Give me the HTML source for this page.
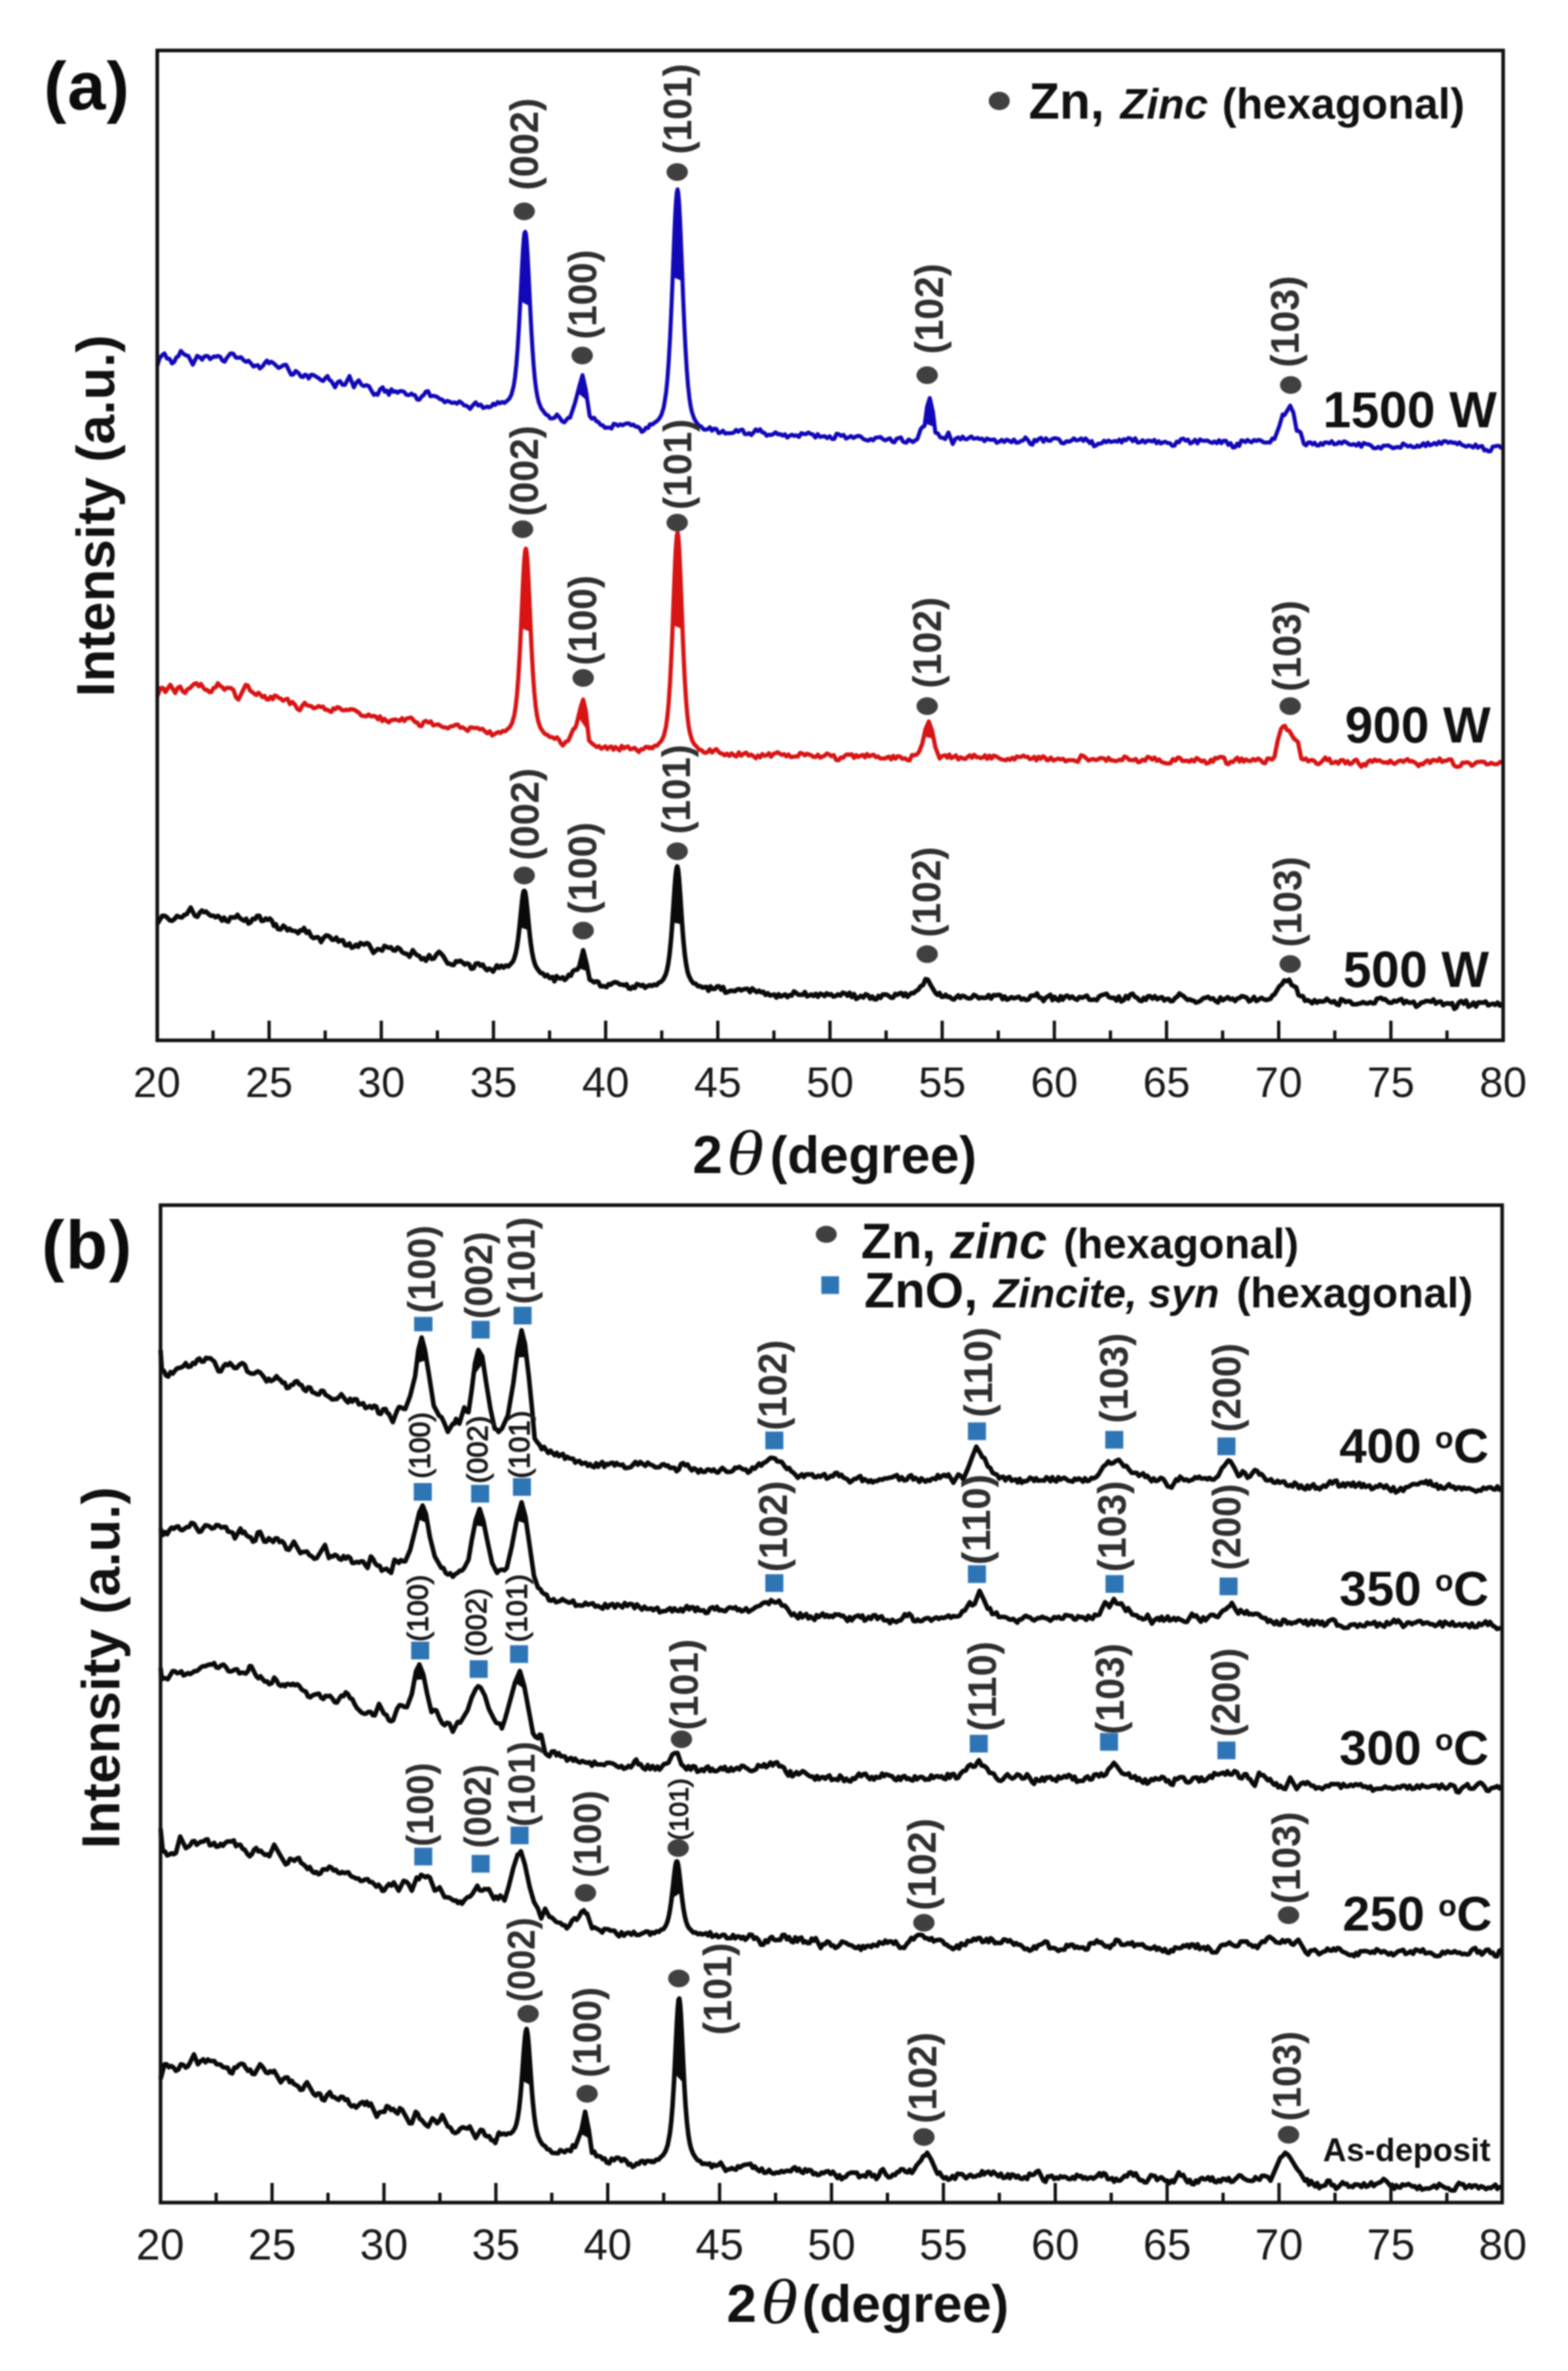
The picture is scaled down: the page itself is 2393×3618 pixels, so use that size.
<!DOCTYPE html>
<html><head><meta charset="utf-8"><title>XRD patterns</title>
<style>html,body{margin:0;padding:0;background:#fff}svg{display:block}</style></head>
<body>
<svg width="2393" height="3618" viewBox="0 0 2393 3618" font-family='"Liberation Sans", Arial, sans-serif'>
<rect width="2393" height="3618" fill="#fff"/>
<defs><filter id="soft" x="0" y="0" width="100%" height="100%" filterUnits="userSpaceOnUse" color-interpolation-filters="sRGB"><feGaussianBlur stdDeviation="1.0"/></filter></defs>
<g filter="url(#soft)">
<path d="M240.0 558.4 243.4 547.0 247.2 542.3 251.0 539.3 254.9 547.1 258.7 547.6 262.5 554.6 265.9 552.2 269.2 545.4 272.6 543.1 275.9 535.5 279.7 539.4 283.6 542.3 287.4 543.1 294.3 556.5 300.8 543.1 304.6 544.9 308.4 548.9 311.3 544.5 314.2 543.1 317.4 543.5 320.6 548.1 323.8 545.8 326.7 543.8 329.6 544.6 332.6 543.1 336.0 544.3 339.4 550.2 342.9 551.9 345.8 546.6 348.8 542.9 351.7 539.3 355.9 539.7 360.1 545.8 363.9 545.9 367.8 545.1 371.6 549.6 375.4 552.1 379.2 550.4 383.1 554.6 386.9 559.3 390.7 557.7 393.6 557.2 396.5 562.3 400.3 559.4 404.1 553.9 407.3 550.2 410.5 554.5 413.7 551.9 417.5 554.2 421.3 557.7 425.2 561.4 429.0 559.6 432.8 557.1 436.6 556.5 444.3 571.8 447.7 571.4 451.2 566.1 455.4 569.0 459.6 574.9 462.5 575.3 465.3 571.8 468.2 572.8 471.1 577.6 474.9 571.8 478.7 572.4 482.6 574.9 486.4 577.0 490.2 580.3 493.4 581.3 496.6 576.7 499.8 573.8 502.6 579.5 505.5 581.4 511.3 591.0 515.1 583.5 518.9 581.4 522.7 587.2 526.6 587.1 533.4 573.8 540.0 591.0 543.8 583.7 547.6 580.3 551.4 586.8 555.3 589.1 559.1 587.8 562.9 589.1 570.6 602.5 573.4 600.9 576.3 602.5 580.1 594.0 584.0 591.0 587.1 597.8 590.3 595.9 593.5 602.5 597.4 594.0 600.5 597.9 603.7 597.0 606.9 599.4 609.8 597.0 612.7 596.7 616.5 597.7 620.3 602.5 624.1 603.0 628.0 600.5 630.0 602.5 633.3 603.0 636.7 609.7 640.0 610.0 643.3 605.3 646.7 602.7 650.0 597.5 653.3 596.8 656.7 604.6 660.0 604.0 663.8 604.3 667.5 605.8 671.2 608.8 675.0 610.0 678.8 613.9 682.5 611.7 686.2 613.0 690.0 615.0 693.8 614.1 697.5 616.0 701.2 612.5 705.0 615.0 708.1 618.6 711.2 618.9 714.4 620.9 717.5 624.0 721.8 618.2 726.0 614.0 729.8 618.8 733.7 617.5 737.5 622.5 740.6 621.6 743.8 620.3 746.9 621.6 750.0 620.0 753.0 615.9 756.0 617.8 759.0 615.0 759.5 613.5 763.0 615.5 766.5 613.3 770.0 614.8 773.5 611.9 777.0 608.8 780.5 602.3 784.0 588.8 786.0 575.6 788.0 556.8 790.0 531.5 792.0 499.4 793.2 477.2 794.4 453.5 795.6 429.2 796.8 405.4 798.0 383.9 799.2 366.7 800.4 355.7 801.6 353.8 802.8 357.8 804.0 370.6 805.2 389.4 806.4 412.1 807.6 436.8 808.8 461.8 810.0 485.9 811.2 508.5 812.4 528.8 814.4 557.3 816.4 579.2 818.4 595.1 820.4 606.3 822.4 614.1 825.9 622.8 829.4 627.6 832.9 632.4 836.4 633.9 839.9 638.5 843.4 638.3 846.2 637.6 850.0 632.5 853.8 636.8 857.5 642.5 861.2 644.5 865.0 640.0 867.5 637.4 870.0 637.5 877.5 615.0 884.0 590.0 889.0 572.5 894.0 595.0 900.0 635.0 903.3 638.9 906.7 637.4 910.0 642.5 913.3 644.1 916.7 648.3 920.0 649.0 923.3 653.0 926.7 652.4 930.0 652.5 933.3 653.8 936.7 646.7 940.0 647.5 943.3 649.6 946.7 647.4 950.0 649.0 953.3 647.1 956.7 646.2 960.0 646.0 963.3 649.0 966.7 647.9 970.0 651.0 973.1 651.1 976.2 653.2 979.4 659.1 982.5 657.5 985.8 652.7 989.2 653.2 992.0 647.3 995.5 647.8 999.0 644.8 1002.5 642.8 1006.0 638.9 1009.5 632.7 1013.0 621.3 1016.5 599.5 1018.5 579.5 1020.5 552.5 1022.5 517.4 1024.5 474.4 1025.7 445.5 1026.9 415.1 1028.1 384.3 1029.3 354.7 1030.5 328.2 1031.7 307.1 1032.9 293.7 1034.1 289.0 1035.3 295.5 1036.5 310.5 1037.7 332.9 1038.9 360.3 1040.1 390.4 1041.3 421.4 1042.5 451.9 1043.7 480.6 1044.9 507.0 1046.1 530.7 1048.1 563.7 1050.1 588.8 1052.1 607.2 1054.1 620.2 1056.1 629.3 1059.6 639.2 1063.1 645.0 1066.6 649.4 1070.1 650.8 1073.6 655.1 1076.2 655.6 1080.0 655.0 1083.3 652.0 1086.7 657.2 1090.0 654.0 1093.3 654.6 1096.7 660.9 1100.0 660.0 1103.3 657.2 1106.7 661.5 1110.0 661.0 1113.3 661.1 1116.7 661.0 1120.0 660.0 1123.3 656.0 1126.7 658.8 1130.0 656.0 1133.3 655.5 1136.7 662.4 1140.0 662.5 1143.3 660.9 1146.7 663.8 1150.0 660.0 1153.3 655.2 1156.7 657.9 1160.0 655.0 1163.3 659.7 1166.7 660.5 1170.0 665.0 1173.3 663.3 1176.7 663.9 1180.0 662.5 1183.6 659.6 1187.1 662.8 1190.7 662.4 1194.3 664.7 1197.9 662.7 1201.4 667.7 1205.0 665.0 1208.6 663.4 1212.1 665.1 1215.7 664.2 1219.3 666.8 1222.9 661.0 1226.4 662.2 1230.0 662.5 1233.6 659.9 1237.1 661.9 1240.7 662.9 1244.3 667.7 1247.9 662.6 1251.4 666.7 1255.0 666.0 1258.8 665.6 1262.5 668.7 1266.2 665.7 1270.0 670.0 1273.3 669.8 1276.7 661.9 1280.0 662.5 1283.8 665.1 1287.5 663.6 1291.2 669.3 1295.0 667.5 1298.8 665.4 1302.5 668.4 1306.2 666.2 1310.0 665.0 1313.8 666.3 1317.5 669.8 1321.2 671.3 1325.0 672.5 1328.8 669.9 1332.5 671.9 1336.2 667.8 1340.0 667.5 1343.8 666.8 1347.5 670.3 1351.2 672.0 1355.0 670.0 1358.3 668.9 1361.7 674.1 1365.0 675.0 1368.3 669.4 1371.7 668.5 1375.0 667.5 1377.5 672.8 1380.0 675.0 1383.3 675.5 1386.7 670.6 1390.0 672.5 1393.3 674.5 1396.7 672.0 1400.0 670.0 1405.0 655.0 1408.0 651.6 1411.0 650.0 1415.0 620.0 1419.0 607.5 1424.0 630.0 1427.5 660.0 1431.2 661.2 1435.0 667.5 1438.8 668.1 1442.5 670.0 1447.5 660.0 1454.0 677.5 1458.2 669.3 1462.5 667.5 1465.8 670.4 1469.2 666.3 1472.5 670.0 1475.8 670.3 1479.2 667.9 1482.5 666.0 1485.6 669.3 1488.8 669.0 1491.9 668.3 1495.0 670.0 1498.8 669.4 1502.5 673.3 1506.2 669.1 1510.0 671.0 1513.8 671.2 1517.5 670.5 1521.2 675.6 1525.0 674.0 1528.8 671.2 1532.5 674.4 1536.2 671.0 1540.0 672.5 1543.8 674.8 1547.5 670.7 1551.2 675.6 1555.0 675.0 1558.3 672.8 1561.7 671.9 1565.0 667.5 1568.8 671.6 1572.5 677.5 1575.6 678.6 1578.8 671.3 1581.9 673.4 1585.0 670.0 1588.8 668.1 1592.5 674.1 1596.2 668.7 1600.0 672.5 1603.1 672.6 1606.2 669.6 1609.4 668.6 1612.5 669.0 1616.2 670.1 1620.0 676.0 1623.8 676.6 1627.5 673.3 1631.2 674.0 1635.0 672.5 1638.8 668.9 1642.5 672.0 1646.2 671.5 1650.0 669.0 1653.3 672.8 1656.7 669.0 1660.0 672.5 1663.1 676.1 1666.2 673.0 1669.4 680.9 1672.5 680.0 1675.6 677.2 1678.8 677.1 1681.9 676.0 1685.0 672.5 1688.3 674.9 1691.7 672.2 1695.0 674.4 1698.3 673.8 1701.7 672.9 1705.0 674.0 1708.3 670.9 1711.7 675.2 1715.0 670.2 1718.3 671.9 1721.7 668.6 1725.0 669.0 1728.8 673.2 1732.5 668.8 1736.2 675.4 1740.0 675.0 1743.8 671.7 1747.5 675.3 1751.2 672.3 1755.0 672.5 1758.3 673.7 1761.7 671.3 1765.0 676.4 1768.3 673.3 1771.7 676.7 1775.0 675.0 1778.5 674.1 1782.0 676.0 1785.5 676.3 1789.0 680.3 1792.5 680.0 1795.8 674.0 1799.2 675.2 1802.5 670.0 1806.0 669.4 1809.5 672.5 1813.0 670.8 1816.5 676.8 1820.0 675.0 1823.8 671.1 1827.5 676.6 1831.2 670.5 1835.0 672.5 1838.8 672.7 1842.5 672.0 1846.2 674.4 1850.0 676.0 1853.5 673.7 1857.0 676.2 1860.5 671.8 1864.0 676.2 1867.5 672.5 1871.0 672.6 1874.5 678.8 1878.0 676.2 1881.5 682.8 1885.0 682.5 1888.1 676.9 1891.2 680.4 1894.4 672.2 1897.5 672.5 1900.6 674.6 1903.8 671.3 1906.9 673.4 1910.0 675.0 1913.8 671.5 1917.5 672.8 1921.2 671.2 1925.0 672.5 1928.3 675.0 1931.7 675.3 1935.0 675.0 1938.3 675.3 1941.7 669.2 1945.0 670.0 1952.5 650.0 1957.5 632.5 1960.0 633.7 1962.5 630.0 1969.0 619.0 1974.0 630.0 1979.0 657.5 1982.0 657.7 1985.0 660.0 1990.0 677.5 1993.3 679.6 1996.7 675.1 2000.0 675.0 2003.1 678.2 2006.2 675.6 2009.4 679.7 2012.5 680.0 2015.6 676.3 2018.8 678.8 2021.9 675.1 2025.0 675.0 2028.8 676.6 2032.5 673.3 2036.2 678.0 2040.0 677.5 2043.8 674.4 2047.5 676.8 2051.2 673.4 2055.0 675.0 2058.8 678.0 2062.5 678.8 2066.2 677.6 2070.0 680.0 2073.8 676.2 2077.5 681.8 2081.2 675.9 2085.0 677.5 2088.8 678.1 2092.5 679.9 2096.2 683.9 2100.0 684.0 2103.8 681.8 2107.5 684.5 2111.2 680.2 2115.0 680.0 2118.8 679.7 2122.5 681.8 2126.2 684.0 2130.0 682.5 2133.8 682.2 2137.5 683.2 2141.2 676.7 2145.0 679.0 2148.8 681.3 2152.5 679.9 2156.2 682.4 2160.0 682.5 2163.0 679.8 2166.0 681.8 2169.0 680.0 2172.3 676.5 2175.7 680.8 2179.0 675.5 2182.3 679.5 2185.7 678.3 2189.0 676.0 2192.6 678.4 2196.1 674.0 2199.7 677.3 2203.3 673.2 2206.9 673.3 2210.4 675.8 2214.0 674.0 2217.3 675.9 2220.7 675.3 2224.0 677.9 2227.3 675.1 2230.7 678.7 2234.0 680.0 2237.6 681.6 2241.1 679.7 2244.7 680.8 2248.3 682.9 2251.9 678.3 2255.4 683.2 2259.0 681.0 2262.1 680.7 2265.2 687.3 2268.4 686.3 2271.5 689.0 2274.8 688.5 2278.2 681.5 2281.5 681.0 2284.6 680.4 2287.8 680.3 2290.9 683.2 2294.0 682.5" fill="none" stroke="#1208b8" stroke-width="6.2" stroke-linejoin="round" stroke-linecap="butt"/>
<path d="M794.1 459.5 794.4 453.5 795.6 429.2 796.8 405.4 798.0 383.9 799.2 366.7 800.4 355.7 801.6 353.8 802.8 357.8 804.0 370.6 805.2 389.4 806.4 412.1 807.6 436.8 808.8 461.8 809.1 467.8ZM881.5 599.6 884.0 590.0 889.0 572.5 894.0 595.0 896.5 611.7ZM1026.6 422.7 1026.9 415.1 1028.1 384.3 1029.3 354.7 1030.5 328.2 1031.7 307.1 1032.9 293.7 1034.1 289.0 1035.3 295.5 1036.5 310.5 1037.7 332.9 1038.9 360.3 1040.1 390.4 1041.3 421.4 1041.6 429.0ZM1411.5 646.2 1415.0 620.0 1419.0 607.5 1424.0 630.0 1426.5 651.4Z" fill="#1208b8" stroke="none"/>
<path d="M240.0 1062.5 245.0 1050.0 248.8 1049.8 252.5 1056.0 256.2 1050.2 260.0 1045.0 267.5 1057.5 271.2 1049.7 275.0 1047.5 278.8 1054.9 282.5 1057.5 286.2 1051.6 290.0 1050.0 293.3 1046.4 296.7 1043.3 300.0 1042.5 303.3 1047.2 306.7 1043.7 310.0 1049.0 313.1 1052.5 316.2 1052.8 319.4 1056.0 322.5 1056.0 325.8 1049.9 329.2 1049.0 332.5 1042.5 335.8 1046.4 339.2 1048.5 342.5 1052.5 345.8 1049.7 349.2 1049.6 352.5 1050.0 356.3 1052.8 360.2 1064.2 364.0 1067.5 375.0 1045.0 378.3 1046.0 381.7 1053.8 385.0 1056.0 388.1 1058.6 391.2 1060.6 394.4 1057.2 397.5 1060.0 400.6 1063.7 403.8 1061.9 406.9 1067.1 410.0 1067.5 413.1 1063.2 416.2 1067.1 419.4 1061.2 422.5 1062.5 425.6 1064.9 428.8 1066.2 431.9 1069.3 435.0 1067.5 438.8 1066.3 442.5 1074.4 446.2 1071.2 450.0 1075.0 453.8 1081.8 457.5 1084.0 461.2 1076.9 465.0 1072.5 468.3 1076.1 471.7 1077.0 475.0 1077.5 478.8 1080.7 482.5 1079.8 486.2 1077.3 490.0 1079.0 493.1 1078.2 496.2 1083.1 499.4 1082.7 502.5 1085.0 505.6 1086.4 508.8 1080.9 511.9 1082.2 515.0 1079.0 518.3 1080.1 521.7 1083.3 525.0 1084.0 528.1 1082.9 531.2 1083.8 534.4 1082.3 537.5 1082.5 541.0 1083.1 544.5 1085.5 548.0 1087.7 551.5 1092.1 555.0 1092.5 558.8 1093.1 562.5 1090.3 566.2 1093.3 570.0 1092.5 573.3 1093.2 576.7 1097.6 580.0 1093.2 583.3 1100.4 586.7 1096.9 590.0 1100.0 593.3 1102.3 596.7 1099.2 600.0 1098.5 603.3 1097.9 606.7 1099.0 610.0 1100.0 613.5 1095.8 617.0 1100.2 620.5 1096.5 624.0 1095.6 627.5 1095.0 630.6 1098.4 633.8 1102.0 636.9 1102.5 640.0 1107.5 643.3 1108.1 646.7 1101.4 650.0 1100.0 653.8 1102.7 657.5 1100.8 661.2 1107.0 665.0 1106.0 668.8 1105.3 672.5 1107.7 676.2 1109.8 680.0 1110.0 683.8 1111.5 687.5 1108.4 691.2 1108.1 695.0 1106.0 698.8 1105.7 702.5 1110.6 706.2 1109.8 710.0 1112.5 713.8 1115.3 717.5 1110.0 721.2 1110.3 725.0 1111.0 728.8 1110.6 732.5 1113.0 736.2 1112.0 740.0 1116.0 743.8 1119.0 747.5 1115.8 751.2 1122.3 755.0 1120.0 758.1 1118.2 760.5 1117.0 764.0 1118.5 767.5 1115.3 771.0 1115.9 774.5 1112.6 778.0 1109.6 781.5 1103.4 785.0 1090.9 787.0 1078.4 789.0 1060.1 791.0 1034.6 793.0 1001.2 794.2 977.6 795.4 951.9 796.6 925.1 797.8 898.4 799.0 873.9 800.2 853.9 801.4 841.0 802.6 837.3 803.8 842.8 805.0 857.3 806.2 878.5 807.4 903.7 808.6 930.8 809.8 957.7 811.0 983.4 812.2 1006.8 813.4 1027.6 815.4 1055.8 817.4 1076.5 819.4 1091.0 821.4 1100.7 824.9 1110.8 828.4 1116.1 831.9 1120.3 835.4 1121.4 838.9 1124.6 842.4 1124.8 846.7 1127.4 850.0 1125.0 853.0 1128.5 856.0 1134.4 859.0 1137.5 863.2 1132.2 867.5 1130.0 875.0 1112.5 877.5 1111.4 880.0 1105.0 886.0 1080.0 890.0 1067.5 894.0 1085.0 899.0 1130.0 903.2 1134.2 907.5 1137.5 910.8 1139.9 914.2 1138.5 917.5 1142.5 920.6 1140.7 923.8 1138.9 926.9 1143.1 930.0 1140.0 933.1 1139.1 936.2 1144.0 939.4 1139.9 942.5 1142.5 945.6 1145.0 948.8 1138.1 951.9 1142.0 955.0 1140.0 958.3 1139.0 961.7 1143.4 965.0 1142.5 968.3 1141.1 971.7 1144.4 975.0 1147.5 978.3 1143.5 981.7 1143.4 985.0 1140.0 988.1 1139.7 991.2 1141.8 992.0 1140.1 995.5 1141.9 999.0 1137.9 1002.5 1138.0 1006.0 1134.2 1009.5 1130.4 1013.0 1123.1 1016.5 1108.4 1018.5 1093.8 1020.5 1072.5 1022.5 1042.7 1024.5 1003.8 1025.7 976.3 1026.9 946.4 1028.1 915.1 1029.3 884.1 1030.5 855.5 1031.7 832.2 1032.9 817.2 1034.1 812.9 1035.3 819.2 1036.5 836.0 1037.7 860.6 1038.9 889.9 1040.1 921.3 1041.3 952.6 1042.5 982.4 1043.7 1009.6 1044.9 1033.7 1046.9 1066.4 1048.9 1090.4 1050.9 1107.2 1052.9 1118.4 1056.4 1130.0 1059.9 1136.2 1063.4 1139.4 1066.9 1144.0 1070.4 1144.4 1073.9 1148.0 1076.9 1148.8 1080.0 1147.5 1083.3 1143.7 1086.7 1148.3 1090.0 1145.0 1093.1 1143.0 1096.2 1146.4 1099.4 1149.6 1102.5 1150.0 1106.0 1152.7 1109.5 1150.0 1113.0 1153.3 1116.5 1149.5 1120.0 1152.5 1123.8 1154.3 1127.5 1148.1 1131.2 1153.2 1135.0 1150.0 1138.8 1148.4 1142.5 1153.1 1146.2 1151.4 1150.0 1154.0 1153.3 1157.0 1156.7 1153.0 1160.0 1155.7 1163.3 1150.7 1166.7 1153.3 1170.0 1152.5 1173.3 1149.5 1176.7 1154.7 1180.0 1150.5 1183.3 1149.5 1186.7 1147.8 1190.0 1150.0 1193.3 1151.9 1196.7 1150.8 1200.0 1154.2 1203.3 1151.3 1206.7 1155.2 1210.0 1155.0 1213.8 1154.1 1217.5 1154.4 1221.2 1148.9 1225.0 1150.0 1228.3 1152.7 1231.7 1150.2 1235.0 1151.5 1238.3 1152.6 1241.7 1155.1 1245.0 1155.0 1248.3 1151.6 1251.7 1156.1 1255.0 1154.5 1258.3 1153.3 1261.7 1149.9 1265.0 1151.0 1268.8 1153.8 1272.5 1152.3 1276.2 1159.8 1280.0 1160.0 1283.3 1155.8 1286.7 1156.4 1290.0 1152.5 1293.3 1151.1 1296.7 1151.8 1300.0 1150.9 1303.3 1156.5 1306.7 1152.3 1310.0 1155.0 1313.3 1153.2 1316.7 1151.9 1320.0 1155.7 1323.3 1150.6 1326.7 1154.3 1330.0 1152.5 1333.3 1151.6 1336.7 1155.4 1340.0 1154.2 1343.3 1157.4 1346.7 1157.4 1350.0 1157.5 1353.3 1156.0 1356.7 1154.6 1360.0 1158.8 1363.3 1153.4 1366.7 1157.7 1370.0 1154.0 1373.8 1154.7 1377.5 1158.0 1381.2 1157.0 1385.0 1160.0 1388.3 1160.2 1391.7 1152.2 1395.0 1152.5 1398.8 1151.6 1402.5 1147.5 1407.5 1135.0 1412.5 1112.5 1417.5 1101.0 1422.5 1115.0 1427.5 1140.0 1434.0 1157.5 1438.2 1153.5 1442.5 1152.5 1445.6 1156.2 1448.8 1151.3 1451.9 1157.0 1455.0 1155.0 1458.8 1152.7 1462.5 1158.9 1466.2 1155.6 1470.0 1157.5 1473.3 1158.2 1476.7 1155.0 1480.0 1152.5 1483.3 1156.3 1486.7 1151.8 1490.0 1155.3 1493.3 1155.3 1496.7 1156.9 1500.0 1156.0 1503.3 1152.6 1506.7 1158.0 1510.0 1153.0 1513.3 1157.5 1516.7 1153.0 1520.0 1154.0 1523.8 1156.4 1527.5 1158.5 1531.2 1159.4 1535.0 1160.0 1538.3 1158.0 1541.7 1159.5 1545.0 1156.3 1548.3 1158.9 1551.7 1154.3 1555.0 1155.0 1558.3 1155.1 1561.7 1153.0 1565.0 1154.9 1568.3 1154.7 1571.7 1158.5 1575.0 1157.5 1578.3 1155.0 1581.7 1160.3 1585.0 1154.9 1588.3 1157.9 1591.7 1154.1 1595.0 1156.0 1597.5 1160.0 1600.0 1160.0 1603.8 1156.1 1607.5 1160.5 1611.2 1159.1 1615.0 1157.5 1618.8 1158.9 1622.5 1157.9 1626.2 1161.8 1630.0 1160.0 1633.8 1159.9 1637.5 1159.9 1641.2 1161.1 1645.0 1162.5 1650.0 1152.5 1653.8 1153.6 1657.5 1156.9 1661.2 1160.6 1665.0 1159.0 1668.3 1158.1 1671.7 1159.7 1675.0 1159.3 1678.3 1157.0 1681.7 1156.7 1685.0 1157.5 1688.3 1160.9 1691.7 1156.3 1695.0 1160.1 1698.3 1160.3 1701.7 1161.2 1705.0 1161.0 1708.8 1159.1 1712.5 1160.1 1716.2 1154.3 1720.0 1156.0 1723.3 1159.6 1726.7 1159.7 1730.0 1160.0 1733.3 1158.1 1736.7 1163.0 1740.0 1162.5 1743.8 1159.2 1747.5 1160.9 1751.2 1154.9 1755.0 1156.0 1758.5 1159.1 1762.0 1156.0 1765.5 1161.0 1769.0 1158.7 1772.5 1162.5 1775.8 1163.9 1779.2 1164.7 1782.5 1165.0 1786.2 1164.9 1790.0 1158.3 1793.8 1160.7 1797.5 1156.0 1801.0 1156.7 1804.5 1161.4 1808.0 1161.0 1811.5 1160.7 1815.0 1162.5 1818.8 1159.3 1822.5 1161.8 1826.2 1156.6 1830.0 1159.0 1833.8 1162.0 1837.5 1160.4 1841.2 1165.2 1845.0 1164.0 1848.1 1159.3 1851.2 1162.4 1854.4 1156.6 1857.5 1157.5 1861.2 1155.1 1865.0 1155.0 1868.3 1156.2 1871.7 1165.4 1875.0 1166.0 1878.3 1162.2 1881.7 1162.9 1885.0 1159.0 1888.3 1156.2 1891.7 1162.3 1895.0 1157.3 1898.3 1162.1 1901.7 1158.8 1905.0 1161.0 1908.8 1161.2 1912.5 1158.2 1916.2 1160.5 1920.0 1157.5 1923.8 1159.8 1927.5 1164.0 1930.8 1164.7 1934.2 1157.4 1937.5 1157.5 1941.2 1159.2 1945.0 1155.0 1950.0 1130.0 1955.0 1112.5 1958.0 1108.6 1961.0 1107.5 1964.2 1114.1 1967.5 1115.0 1975.0 1127.5 1978.0 1129.5 1981.0 1132.5 1986.0 1157.5 1989.5 1159.2 1993.0 1157.4 1996.5 1161.9 2000.0 1160.0 2003.1 1159.8 2006.2 1161.6 2009.4 1165.6 2012.5 1166.0 2015.8 1163.6 2019.2 1160.1 2022.5 1156.0 2025.6 1160.1 2028.8 1157.7 2031.9 1164.7 2035.0 1164.0 2038.8 1162.1 2042.5 1165.2 2046.2 1159.9 2050.0 1160.0 2053.3 1164.9 2056.7 1161.5 2060.0 1166.0 2063.3 1164.8 2066.7 1160.7 2070.0 1159.0 2073.8 1165.4 2077.5 1170.0 2080.8 1165.9 2084.2 1168.2 2087.5 1162.5 2091.0 1160.2 2094.5 1162.6 2098.0 1159.0 2101.5 1161.2 2105.0 1160.0 2108.3 1161.9 2111.7 1163.8 2115.0 1163.0 2118.3 1164.6 2121.7 1160.6 2125.0 1164.0 2128.3 1165.8 2131.7 1163.2 2135.0 1161.1 2138.3 1160.4 2141.7 1162.7 2145.0 1160.0 2148.1 1158.3 2151.2 1162.0 2154.4 1161.1 2157.5 1162.5 2161.2 1164.9 2165.0 1169.0 2168.3 1165.5 2171.7 1166.5 2175.0 1162.5 2178.8 1160.4 2182.5 1164.3 2186.2 1159.8 2190.0 1160.0 2193.6 1161.4 2197.1 1157.4 2200.7 1162.6 2204.3 1161.0 2207.9 1160.7 2211.4 1158.6 2215.0 1159.0 2218.8 1167.8 2222.5 1170.0 2225.6 1170.0 2228.8 1169.0 2231.9 1163.8 2235.0 1164.0 2238.8 1163.1 2242.5 1164.4 2246.2 1168.7 2250.0 1166.0 2253.8 1162.7 2257.5 1162.7 2261.2 1162.2 2265.0 1162.5 2268.8 1166.4 2272.5 1165.8 2276.2 1164.0 2280.0 1166.0 2283.1 1166.1 2286.2 1165.5 2289.4 1162.6 2292.5 1164.0" fill="none" stroke="#d81414" stroke-width="6.4" stroke-linejoin="round" stroke-linecap="butt"/>
<path d="M795.1 958.4 795.4 951.9 796.6 925.1 797.8 898.4 799.0 873.9 800.2 853.9 801.4 841.0 802.6 837.3 803.8 842.8 805.0 857.3 806.2 878.5 807.4 903.7 808.6 930.8 809.8 957.7 810.1 964.2ZM882.5 1094.6 886.0 1080.0 890.0 1067.5 894.0 1085.0 897.5 1116.5ZM1026.6 953.9 1026.9 946.4 1028.1 915.1 1029.3 884.1 1030.5 855.5 1031.7 832.2 1032.9 817.2 1034.1 812.9 1035.3 819.2 1036.5 836.0 1037.7 860.6 1038.9 889.9 1040.1 921.3 1041.3 952.6 1041.6 960.1ZM1410.0 1123.8 1412.5 1112.5 1417.5 1101.0 1422.5 1115.0 1425.0 1127.5Z" fill="#d81414" stroke="none"/>
<path d="M240.0 1410.0 247.5 1397.5 251.2 1397.4 255.0 1400.0 258.8 1404.3 262.5 1405.0 266.2 1402.6 270.0 1397.5 273.8 1399.4 277.5 1400.0 281.2 1396.1 285.0 1395.0 291.0 1385.0 297.5 1397.5 301.2 1398.9 305.0 1392.5 308.1 1389.5 311.2 1391.9 314.4 1390.9 317.5 1394.0 321.2 1397.2 325.0 1397.2 328.8 1399.7 332.5 1397.5 335.6 1400.2 338.8 1404.7 341.9 1400.2 345.0 1405.0 348.3 1406.3 351.7 1399.8 355.0 1400.0 358.8 1400.1 362.5 1396.0 365.8 1400.7 369.2 1403.0 372.5 1405.0 375.8 1402.0 379.2 1409.3 382.5 1407.5 385.8 1401.9 389.2 1402.6 392.5 1397.5 395.8 1397.5 399.2 1405.3 402.5 1405.0 405.6 1401.6 408.8 1403.6 411.9 1401.6 415.0 1405.0 418.0 1412.8 421.0 1410.4 424.0 1417.5 428.2 1418.3 432.5 1412.5 435.6 1415.1 438.8 1419.7 441.9 1417.2 445.0 1420.0 448.3 1420.4 451.7 1421.1 455.0 1424.0 458.0 1419.6 461.0 1420.0 464.0 1416.0 467.7 1423.3 471.3 1421.2 475.0 1429.0 478.3 1431.6 481.7 1430.5 485.0 1430.0 487.5 1432.5 490.0 1437.5 493.8 1431.3 497.5 1427.5 500.6 1427.8 503.8 1430.0 506.9 1434.0 510.0 1434.0 513.3 1430.8 516.7 1436.8 520.0 1435.0 523.3 1434.8 526.7 1442.4 530.0 1442.5 533.3 1439.6 536.7 1446.2 540.0 1445.0 543.3 1441.6 546.7 1444.8 550.0 1439.0 553.1 1440.5 556.2 1441.5 559.4 1439.1 562.5 1440.0 570.0 1454.0 573.3 1451.0 576.7 1448.0 580.0 1449.0 583.3 1450.5 586.7 1443.4 590.0 1445.0 593.3 1446.3 596.7 1445.5 600.0 1450.0 603.3 1450.6 606.7 1445.8 610.0 1447.5 613.8 1453.0 617.5 1455.0 621.2 1455.7 625.0 1460.0 630.0 1450.0 633.3 1454.6 636.7 1457.6 640.0 1459.0 643.3 1463.8 646.7 1462.1 650.0 1466.0 655.0 1457.5 658.8 1463.2 662.5 1462.5 666.2 1456.3 670.0 1452.5 673.3 1455.2 676.7 1459.2 680.0 1465.0 683.1 1470.2 686.2 1470.5 689.4 1472.3 692.5 1472.5 695.8 1466.8 699.2 1467.5 702.5 1466.0 705.8 1468.5 709.2 1471.9 712.5 1470.0 715.8 1471.3 719.2 1478.3 722.5 1477.5 726.2 1470.5 730.0 1470.0 733.3 1473.5 736.7 1471.8 740.0 1477.5 743.1 1480.5 746.2 1478.0 749.4 1479.4 752.5 1482.5 756.2 1476.9 758.2 1473.2 761.7 1476.9 765.2 1473.6 768.7 1476.6 772.2 1473.2 775.7 1474.8 779.2 1471.3 782.7 1467.2 784.7 1462.8 786.7 1456.1 788.7 1446.4 790.7 1432.9 791.9 1423.0 793.1 1411.9 794.3 1399.9 795.5 1387.6 796.7 1376.0 797.9 1366.2 799.1 1359.9 800.3 1359.4 801.5 1361.2 802.7 1368.7 803.9 1379.4 805.1 1391.7 806.3 1404.5 807.5 1416.9 808.7 1428.3 809.9 1438.4 811.9 1452.3 813.9 1462.6 815.9 1469.9 817.9 1474.9 821.4 1480.2 824.9 1484.7 828.4 1485.3 831.9 1489.7 835.4 1487.7 838.9 1492.5 843.1 1490.8 846.2 1497.4 849.4 1489.6 852.5 1492.5 855.6 1493.1 858.8 1491.3 861.9 1495.3 865.0 1492.5 868.1 1487.4 871.2 1488.9 874.4 1481.7 877.5 1480.0 880.8 1479.7 884.0 1475.0 890.0 1450.0 895.0 1470.0 900.0 1495.0 903.3 1496.7 906.7 1499.0 910.0 1497.5 913.1 1498.2 916.2 1504.9 919.4 1504.8 922.5 1505.0 925.6 1506.4 928.8 1501.7 931.9 1502.7 935.0 1500.0 938.8 1498.6 942.5 1499.7 946.2 1502.3 950.0 1502.5 953.1 1503.6 956.2 1501.9 959.4 1508.2 962.5 1509.0 965.6 1505.7 968.8 1507.5 971.9 1501.6 975.0 1502.5 978.1 1504.3 981.2 1502.8 984.4 1507.3 987.5 1505.0 990.6 1504.2 991.5 1503.2 995.0 1504.4 998.5 1502.4 1002.0 1503.3 1005.5 1499.5 1009.0 1498.0 1012.5 1494.0 1016.0 1486.9 1018.0 1479.9 1020.0 1469.6 1022.0 1454.8 1024.0 1434.6 1025.2 1419.8 1026.4 1403.2 1027.6 1385.4 1028.8 1367.1 1030.0 1349.7 1031.2 1335.2 1032.4 1325.5 1033.6 1322.0 1034.8 1326.8 1036.0 1337.5 1037.2 1352.7 1038.4 1370.5 1039.6 1388.8 1040.8 1406.6 1042.0 1423.0 1043.2 1437.5 1045.2 1457.3 1047.2 1471.8 1049.2 1481.9 1051.2 1488.7 1054.7 1495.8 1058.2 1500.3 1061.7 1501.2 1065.2 1504.9 1068.7 1504.8 1072.2 1507.0 1078.1 1505.9 1081.2 1511.9 1084.4 1505.1 1087.5 1509.0 1090.8 1509.1 1094.2 1505.3 1097.5 1505.0 1100.6 1510.0 1103.8 1506.3 1106.9 1514.8 1110.0 1514.0 1113.8 1512.1 1117.5 1511.7 1121.2 1512.6 1125.0 1510.0 1128.1 1509.3 1131.2 1511.3 1134.4 1509.9 1137.5 1509.0 1141.0 1509.0 1144.5 1513.8 1148.0 1508.3 1151.5 1511.4 1155.0 1514.0 1158.3 1511.7 1161.7 1514.2 1165.0 1513.4 1168.3 1518.1 1171.7 1515.7 1175.0 1519.0 1178.3 1518.3 1181.7 1517.6 1185.0 1522.1 1188.3 1517.2 1191.7 1520.7 1195.0 1519.0 1198.3 1517.5 1201.7 1521.5 1205.0 1518.5 1208.3 1519.2 1211.7 1512.8 1215.0 1515.0 1218.3 1517.9 1221.7 1518.1 1225.0 1517.9 1228.3 1514.0 1231.7 1520.4 1235.0 1519.0 1238.3 1517.5 1241.7 1519.7 1245.0 1516.6 1248.3 1520.9 1251.7 1516.2 1255.0 1517.5 1258.3 1519.9 1261.7 1515.8 1265.0 1518.1 1268.3 1517.0 1271.7 1520.7 1275.0 1520.0 1278.8 1517.3 1282.5 1519.1 1286.2 1514.8 1290.0 1516.0 1293.3 1519.2 1296.7 1514.9 1300.0 1521.4 1303.3 1516.9 1306.7 1524.4 1310.0 1522.5 1313.8 1519.5 1317.5 1522.1 1321.2 1517.1 1325.0 1519.0 1328.1 1523.9 1331.2 1520.8 1334.4 1524.7 1337.5 1525.0 1340.6 1519.7 1343.8 1522.7 1346.9 1517.8 1350.0 1517.5 1353.3 1517.7 1356.7 1519.9 1360.0 1522.5 1363.1 1522.4 1366.2 1516.7 1369.4 1518.2 1372.5 1516.0 1375.6 1515.2 1378.8 1519.8 1381.9 1516.0 1385.0 1521.0 1388.1 1517.7 1391.2 1515.3 1394.4 1515.6 1397.5 1512.5 1401.2 1510.5 1405.0 1505.0 1408.8 1503.2 1412.5 1494.0 1416.2 1495.1 1420.0 1502.5 1427.5 1515.0 1430.6 1518.1 1433.8 1515.2 1436.9 1521.0 1440.0 1521.0 1443.1 1518.0 1446.2 1521.3 1449.4 1521.0 1452.5 1524.0 1455.8 1525.3 1459.2 1521.9 1462.5 1519.0 1465.6 1522.6 1468.8 1519.6 1471.9 1520.2 1475.0 1522.5 1478.8 1523.7 1482.5 1522.9 1486.2 1518.1 1490.0 1520.0 1493.8 1523.4 1497.5 1522.1 1501.2 1522.7 1505.0 1522.5 1508.8 1518.5 1512.5 1523.8 1516.2 1518.4 1520.0 1519.0 1523.3 1518.1 1526.7 1518.4 1530.0 1524.6 1533.3 1520.6 1536.7 1525.5 1540.0 1524.0 1543.8 1521.5 1547.5 1523.5 1551.2 1522.2 1555.0 1521.0 1558.8 1525.2 1562.5 1523.6 1566.2 1526.0 1570.0 1525.0 1573.1 1519.5 1576.2 1519.2 1579.4 1519.2 1582.5 1516.0 1585.8 1522.2 1589.2 1522.4 1592.5 1527.5 1596.2 1522.2 1600.0 1520.0 1603.1 1518.0 1606.2 1526.2 1609.4 1521.3 1612.5 1525.0 1615.6 1526.7 1618.8 1520.1 1621.9 1525.4 1625.0 1521.0 1628.8 1519.2 1632.5 1523.1 1636.2 1520.5 1640.0 1524.0 1643.8 1525.6 1647.5 1521.3 1651.2 1522.5 1655.0 1521.0 1658.8 1519.3 1662.5 1525.5 1666.2 1525.8 1670.0 1525.0 1673.8 1526.3 1677.5 1520.5 1681.2 1518.7 1685.0 1517.5 1688.8 1516.4 1692.5 1521.7 1696.2 1522.7 1700.0 1522.5 1703.8 1526.8 1707.5 1520.6 1711.2 1528.2 1715.0 1526.0 1718.3 1519.9 1721.7 1523.8 1725.0 1517.5 1728.5 1516.4 1732.0 1521.0 1735.5 1522.7 1739.0 1526.6 1742.5 1527.5 1745.6 1522.7 1748.8 1525.7 1751.9 1520.3 1755.0 1520.0 1758.8 1523.7 1762.5 1520.1 1766.2 1524.8 1770.0 1522.5 1773.3 1521.5 1776.7 1526.7 1780.0 1524.4 1783.3 1524.2 1786.7 1527.7 1790.0 1527.5 1793.3 1523.0 1796.7 1520.8 1800.0 1516.0 1803.1 1518.2 1806.2 1519.9 1809.4 1523.1 1812.5 1526.0 1815.6 1524.9 1818.8 1526.5 1821.9 1527.1 1825.0 1530.0 1828.8 1528.8 1832.5 1526.9 1836.2 1523.3 1840.0 1522.5 1843.8 1521.1 1847.5 1524.5 1851.2 1523.3 1855.0 1527.5 1858.8 1529.8 1862.5 1522.1 1866.2 1526.3 1870.0 1524.0 1873.8 1521.6 1877.5 1524.9 1881.2 1523.8 1885.0 1527.5 1888.3 1523.7 1891.7 1522.8 1895.0 1520.0 1898.8 1520.9 1902.5 1522.2 1906.2 1528.1 1910.0 1526.0 1913.8 1521.3 1917.5 1527.5 1921.2 1525.2 1925.0 1522.5 1928.7 1524.9 1932.3 1526.0 1936.0 1525.0 1939.0 1524.1 1942.0 1519.0 1945.0 1517.5 1952.5 1505.0 1956.2 1502.2 1960.0 1496.0 1963.8 1497.3 1967.5 1495.0 1971.2 1503.0 1975.0 1505.0 1978.3 1506.6 1981.7 1518.6 1985.0 1520.0 1988.3 1520.0 1991.7 1527.2 1995.0 1526.0 1998.8 1527.7 2002.5 1531.0 2006.2 1526.1 2010.0 1530.0 2013.8 1527.4 2017.5 1528.5 2021.2 1527.6 2025.0 1524.0 2028.8 1527.5 2032.5 1529.6 2036.2 1527.7 2040.0 1532.5 2043.3 1533.8 2046.7 1524.6 2050.0 1526.0 2053.5 1529.0 2057.0 1527.8 2060.5 1528.0 2064.0 1532.4 2067.5 1532.5 2070.6 1532.5 2073.8 1531.4 2076.9 1531.0 2080.0 1529.0 2083.8 1530.8 2087.5 1531.3 2091.2 1529.2 2095.0 1531.0 2098.1 1530.9 2101.2 1524.2 2104.4 1523.4 2107.5 1522.5 2110.6 1525.0 2113.8 1524.6 2116.9 1527.5 2120.0 1530.0 2123.8 1530.2 2127.5 1527.1 2131.2 1528.3 2135.0 1526.0 2138.8 1524.4 2142.5 1531.1 2146.2 1527.3 2150.0 1530.0 2153.8 1530.0 2157.5 1528.6 2161.2 1536.3 2165.0 1534.0 2168.8 1530.0 2172.5 1529.3 2176.2 1527.4 2180.0 1527.5 2183.8 1528.7 2187.5 1525.2 2191.2 1531.4 2195.0 1529.0 2198.8 1528.2 2202.5 1533.9 2206.2 1531.5 2210.0 1531.0 2213.1 1532.0 2216.2 1530.6 2219.4 1539.4 2222.5 1537.5 2226.2 1529.9 2230.0 1527.5 2233.8 1531.5 2237.5 1527.0 2241.2 1536.1 2245.0 1534.0 2248.8 1529.9 2252.5 1535.9 2256.2 1529.4 2260.0 1530.0 2263.8 1530.0 2267.5 1528.3 2271.2 1534.2 2275.0 1532.5 2278.5 1531.5 2282.0 1533.4 2285.5 1529.9 2289.0 1534.4 2292.5 1531.0" fill="none" stroke="#0a0a0a" stroke-width="7.0" stroke-linejoin="round" stroke-linecap="butt"/>
<path d="M792.8 1414.7 793.1 1411.9 794.3 1399.9 795.5 1387.6 796.7 1376.0 797.9 1366.2 799.1 1359.9 800.3 1359.4 801.5 1361.2 802.7 1368.7 803.9 1379.4 805.1 1391.7 806.3 1404.5 807.5 1416.9 807.8 1419.7ZM882.5 1477.2 884.0 1475.0 890.0 1450.0 895.0 1470.0 897.5 1482.5ZM1026.1 1407.4 1026.4 1403.2 1027.6 1385.4 1028.8 1367.1 1030.0 1349.7 1031.2 1335.2 1032.4 1325.5 1033.6 1322.0 1034.8 1326.8 1036.0 1337.5 1037.2 1352.7 1038.4 1370.5 1039.6 1388.8 1040.8 1406.6 1041.1 1410.7Z" fill="#0a0a0a" stroke="none"/>
<path d="M245.0 2060.0 247.0 2090.0 250.2 2092.0 253.5 2099.0 256.8 2100.5 260.2 2093.7 263.5 2096.0 266.8 2091.8 270.2 2088.0 273.5 2087.5 276.8 2086.4 280.2 2084.4 283.5 2080.0 287.2 2085.9 291.0 2085.0 294.3 2079.8 297.7 2081.2 301.0 2075.0 304.3 2073.0 307.7 2077.7 311.0 2077.5 314.3 2072.0 317.7 2072.9 321.0 2072.5 324.0 2075.3 327.0 2077.5 333.5 2092.5 337.2 2092.5 341.0 2085.0 344.3 2081.5 347.7 2083.3 351.0 2080.0 354.3 2083.5 357.7 2087.5 361.0 2087.5 364.0 2083.9 367.0 2081.5 370.0 2080.0 373.7 2082.8 377.3 2092.8 381.0 2095.0 384.1 2096.1 387.2 2096.2 390.4 2094.4 393.5 2092.5 396.8 2094.3 400.2 2098.0 403.5 2102.5 406.8 2107.9 410.2 2103.9 413.5 2107.5 417.8 2105.2 422.0 2100.0 425.0 2103.9 428.0 2105.6 431.0 2110.0 434.3 2109.8 437.7 2118.2 441.0 2117.5 444.1 2113.3 447.2 2113.1 450.4 2108.3 453.5 2107.5 456.8 2112.5 460.2 2113.3 463.5 2120.0 466.8 2122.6 470.2 2116.9 473.5 2117.5 476.8 2124.4 480.2 2125.5 483.5 2127.5 486.8 2128.0 490.2 2122.3 493.5 2122.5 496.8 2128.4 500.2 2130.3 503.5 2132.5 506.8 2135.4 510.2 2135.1 513.5 2135.0 517.2 2131.8 521.0 2127.5 524.3 2132.0 527.7 2136.8 531.0 2140.0 534.3 2134.5 537.7 2138.8 541.0 2135.0 544.3 2135.3 547.7 2143.0 551.0 2142.5 554.3 2141.3 557.7 2148.6 561.0 2147.5 564.3 2145.6 567.7 2148.5 571.0 2145.0 574.3 2146.5 577.7 2156.7 581.0 2157.5 584.8 2150.5 588.5 2150.0 591.0 2155.8 593.5 2157.5 599.5 2170.0 606.0 2152.5 609.0 2147.0 612.0 2147.5 615.2 2149.5 618.5 2150.0 626.0 2130.0 633.5 2100.0 638.5 2060.0 643.5 2041.0 648.5 2060.0 655.0 2100.0 662.0 2145.0 670.0 2160.0 674.2 2163.1 678.5 2172.5 683.5 2185.0 691.0 2172.5 693.5 2172.6 696.0 2165.0 698.5 2170.2 701.0 2172.5 708.5 2147.5 711.8 2153.8 715.0 2155.0 720.0 2120.0 725.0 2080.0 730.0 2060.0 736.0 2070.0 742.0 2110.0 748.5 2150.0 755.0 2180.0 758.0 2181.3 761.0 2185.0 763.5 2182.1 766.0 2180.0 775.0 2160.0 783.5 2110.0 790.0 2060.0 796.0 2030.0 801.0 2050.0 807.0 2100.0 812.0 2150.0 816.0 2195.0 819.8 2200.6 823.5 2205.0 826.8 2211.4 830.2 2207.9 833.5 2212.5 836.8 2217.1 840.2 2213.8 843.5 2217.5 846.6 2220.6 849.8 2217.0 852.9 2222.0 856.0 2220.0 859.1 2218.6 862.2 2226.0 865.4 2222.9 868.5 2225.0 871.6 2225.8 874.8 2226.1 877.9 2231.9 881.0 2230.0 884.3 2229.3 887.7 2233.9 891.0 2232.5 894.1 2232.3 897.2 2236.7 900.4 2234.1 903.5 2237.5 906.6 2238.8 909.8 2232.9 912.9 2238.1 916.0 2234.0 919.1 2231.0 922.2 2238.4 925.4 2233.9 928.5 2235.0 931.6 2232.7 934.8 2232.1 937.9 2236.2 941.0 2232.5 944.1 2235.1 947.2 2235.7 950.4 2234.9 953.5 2240.0 956.6 2240.1 959.8 2239.4 962.9 2238.7 966.0 2235.0 969.8 2230.9 973.5 2235.1 977.2 2230.9 981.0 2234.0 984.8 2236.8 988.5 2231.9 992.2 2234.7 996.0 2236.0 1000.0 2239.0 1003.3 2239.1 1006.7 2238.8 1010.0 2235.0 1013.1 2234.3 1016.2 2236.9 1019.4 2236.2 1022.5 2240.0 1025.8 2239.7 1029.2 2239.7 1032.5 2245.0 1035.8 2242.6 1039.2 2234.2 1042.5 2232.5 1045.8 2236.1 1049.2 2234.6 1052.5 2240.0 1055.8 2243.8 1059.2 2240.5 1062.5 2242.5 1065.8 2247.0 1069.2 2242.4 1072.5 2246.0 1075.8 2246.1 1079.2 2242.6 1082.5 2242.5 1085.8 2244.9 1089.2 2242.4 1092.5 2246.0 1095.8 2247.2 1099.2 2242.9 1102.5 2240.0 1105.8 2242.8 1109.2 2245.9 1112.5 2246.0 1115.6 2245.7 1118.8 2243.9 1121.9 2239.6 1125.0 2240.0 1128.3 2238.3 1131.7 2240.8 1135.0 2242.5 1138.3 2242.2 1141.7 2247.2 1145.0 2245.0 1148.3 2239.3 1151.7 2241.2 1155.0 2237.5 1158.3 2233.3 1161.7 2236.5 1165.0 2232.5 1168.8 2230.9 1172.5 2227.5 1176.2 2224.4 1180.0 2225.0 1183.0 2225.7 1186.0 2229.9 1189.0 2230.0 1193.2 2231.0 1197.5 2237.5 1200.8 2241.7 1204.2 2239.9 1207.5 2245.0 1210.8 2247.2 1214.2 2250.6 1217.5 2255.0 1220.6 2252.3 1223.8 2249.8 1226.9 2253.7 1230.0 2250.0 1233.1 2249.7 1236.2 2250.1 1239.4 2249.6 1242.5 2254.0 1245.6 2254.1 1248.8 2251.9 1251.9 2253.5 1255.0 2251.0 1258.3 2249.3 1261.7 2256.3 1265.0 2255.0 1268.1 2252.0 1271.2 2252.8 1274.4 2248.0 1277.5 2247.5 1280.8 2252.6 1284.2 2250.5 1287.5 2255.0 1290.6 2255.9 1293.8 2257.8 1296.9 2261.9 1300.0 2260.0 1303.3 2257.0 1306.7 2256.6 1310.0 2254.0 1313.1 2252.5 1316.2 2260.1 1319.4 2257.0 1322.5 2259.0 1325.6 2261.4 1328.8 2258.8 1331.9 2262.0 1335.0 2260.0 1338.8 2259.9 1342.5 2257.3 1346.2 2258.1 1350.0 2256.0 1353.8 2256.0 1357.5 2254.8 1361.2 2254.4 1365.0 2252.5 1368.8 2250.9 1372.5 2258.2 1376.2 2254.3 1380.0 2259.0 1383.8 2258.0 1387.5 2252.5 1390.6 2251.1 1393.8 2257.7 1396.9 2255.0 1400.0 2257.5 1403.1 2261.3 1406.2 2255.8 1409.4 2258.7 1412.5 2261.0 1415.6 2258.2 1418.8 2259.7 1421.9 2256.6 1425.0 2256.0 1428.1 2257.2 1431.2 2250.9 1434.4 2255.1 1437.5 2252.5 1440.8 2250.6 1444.2 2252.7 1447.5 2250.0 1455.0 2262.5 1462.5 2250.0 1466.2 2252.3 1470.0 2257.5 1477.5 2240.0 1484.0 2222.5 1490.0 2207.5 1496.0 2217.5 1499.2 2223.6 1502.5 2225.0 1507.5 2237.5 1511.2 2240.0 1515.0 2247.5 1518.3 2249.1 1521.7 2250.5 1525.0 2256.0 1528.1 2253.9 1531.2 2253.4 1534.4 2259.0 1537.5 2255.0 1540.6 2253.8 1543.8 2259.4 1546.9 2258.4 1550.0 2257.5 1553.1 2262.0 1556.2 2256.7 1559.4 2262.7 1562.5 2260.0 1565.6 2260.5 1568.8 2258.8 1571.9 2254.9 1575.0 2256.0 1578.1 2259.8 1581.2 2255.6 1584.4 2259.5 1587.5 2259.0 1590.6 2258.9 1593.8 2259.4 1596.9 2254.2 1600.0 2256.0 1603.0 2260.3 1606.0 2254.2 1609.0 2259.0 1612.1 2260.6 1615.2 2254.1 1618.4 2257.8 1621.5 2256.0 1624.6 2254.9 1627.8 2257.4 1630.9 2259.6 1634.0 2260.0 1637.1 2260.9 1640.2 2256.3 1643.4 2258.1 1646.5 2256.0 1649.6 2257.9 1652.8 2260.8 1655.9 2255.8 1659.0 2260.0 1662.3 2259.4 1665.7 2255.2 1669.0 2256.0 1672.8 2254.0 1676.5 2250.0 1684.0 2237.5 1687.8 2234.8 1691.5 2230.0 1695.2 2233.4 1699.0 2232.5 1703.2 2229.2 1707.5 2227.5 1711.2 2232.1 1715.0 2237.5 1719.0 2236.7 1723.0 2242.5 1727.2 2247.5 1731.5 2247.5 1734.8 2247.5 1738.2 2252.2 1741.5 2250.0 1744.6 2248.2 1747.8 2253.7 1750.9 2251.8 1754.0 2256.0 1757.3 2260.2 1760.7 2255.9 1764.0 2260.0 1767.8 2258.8 1771.5 2255.0 1775.2 2256.6 1779.0 2262.5 1782.0 2268.1 1785.0 2268.8 1788.0 2270.0 1795.0 2257.5 1798.0 2259.4 1801.0 2253.2 1804.0 2256.0 1807.3 2258.7 1810.7 2257.5 1814.0 2260.0 1817.3 2258.7 1820.7 2257.7 1824.0 2254.0 1827.1 2255.6 1830.2 2253.4 1833.4 2256.2 1836.5 2256.0 1839.6 2255.6 1842.8 2257.4 1845.9 2255.0 1849.0 2257.5 1852.3 2257.8 1855.7 2254.9 1859.0 2252.5 1865.0 2240.0 1868.2 2237.0 1871.5 2232.5 1874.8 2228.5 1878.0 2230.0 1884.0 2240.0 1890.0 2252.5 1893.2 2251.0 1896.5 2245.0 1900.2 2247.8 1904.0 2255.0 1907.8 2253.0 1911.5 2247.5 1915.2 2243.1 1919.0 2245.0 1922.0 2250.1 1925.0 2249.2 1928.0 2252.5 1932.2 2258.7 1936.5 2259.0 1939.8 2257.2 1943.2 2262.1 1946.5 2262.5 1949.8 2259.6 1953.2 2262.7 1956.5 2261.0 1959.8 2260.6 1963.2 2266.1 1966.5 2267.5 1969.6 2265.8 1972.8 2268.1 1975.9 2262.4 1979.0 2265.0 1982.3 2270.7 1985.7 2266.8 1989.0 2271.0 1992.1 2272.5 1995.2 2267.0 1998.4 2271.4 2001.5 2267.5 2004.6 2264.9 2007.8 2271.4 2010.9 2270.1 2014.0 2272.5 2017.1 2269.2 2020.2 2266.8 2023.4 2268.8 2026.5 2265.0 2029.8 2260.4 2033.2 2263.8 2036.5 2260.0 2039.8 2259.4 2043.2 2268.2 2046.5 2267.5 2049.6 2263.6 2052.8 2268.1 2055.9 2263.7 2059.0 2264.0 2062.1 2267.2 2065.2 2262.4 2068.4 2268.7 2071.5 2266.0 2074.6 2263.2 2077.8 2269.2 2080.9 2264.7 2084.0 2269.0 2087.1 2267.7 2090.2 2266.8 2093.4 2272.4 2096.5 2271.0 2099.6 2268.1 2102.8 2268.8 2105.9 2265.4 2109.0 2267.5 2112.3 2270.2 2115.7 2266.7 2119.0 2271.0 2122.8 2275.3 2126.5 2269.5 2130.2 2277.4 2134.0 2275.0 2137.8 2270.6 2141.5 2275.1 2145.2 2269.5 2149.0 2269.0 2152.8 2266.7 2156.5 2264.4 2160.2 2264.9 2164.0 2265.0 2167.1 2262.9 2170.2 2261.8 2173.4 2263.0 2176.5 2260.0 2179.6 2264.8 2182.8 2260.2 2185.9 2266.4 2189.0 2267.5 2192.1 2264.9 2195.2 2271.6 2198.4 2267.6 2201.5 2271.0 2204.8 2271.5 2208.2 2267.8 2211.5 2265.0 2214.8 2268.9 2218.2 2268.4 2221.5 2272.5 2224.6 2270.0 2227.8 2269.8 2230.9 2272.7 2234.0 2270.0 2237.8 2271.7 2241.5 2270.8 2245.2 2272.4 2249.0 2274.0 2252.8 2276.1 2256.5 2273.8 2260.2 2274.6 2264.0 2270.0 2267.8 2272.0 2271.5 2269.7 2275.2 2269.5 2279.0 2272.5 2282.1 2272.9 2285.2 2268.1 2288.4 2273.0 2291.5 2271.0" fill="none" stroke="#0a0a0a" stroke-width="7.0" stroke-linejoin="round" stroke-linecap="butt"/>
<path d="M636.0 2080.0 638.5 2060.0 643.5 2041.0 648.5 2060.0 651.0 2075.4ZM722.5 2100.0 725.0 2080.0 730.0 2060.0 736.0 2070.0 737.5 2080.0ZM788.5 2071.5 790.0 2060.0 796.0 2030.0 801.0 2050.0 803.5 2070.8Z" fill="#0a0a0a" stroke="none"/>
<path d="M245.0 2332.5 248.5 2342.5 251.8 2337.9 255.2 2341.1 258.5 2335.0 261.8 2331.1 265.2 2332.9 268.5 2330.0 271.8 2329.0 275.2 2334.2 278.5 2335.0 281.8 2332.4 285.2 2330.2 288.5 2330.0 292.2 2323.7 296.0 2325.0 303.5 2337.5 306.8 2336.9 310.2 2331.4 313.5 2327.5 316.8 2328.0 320.2 2329.6 323.5 2332.5 326.8 2331.5 330.2 2327.1 333.5 2327.5 337.8 2331.1 342.0 2330.0 345.0 2330.3 348.0 2337.1 351.0 2337.5 354.8 2338.6 358.5 2347.5 367.0 2332.5 370.0 2339.2 373.0 2337.5 376.0 2342.5 379.3 2345.1 382.7 2346.0 386.0 2352.5 389.7 2350.9 393.3 2338.7 397.0 2337.5 403.5 2352.5 406.8 2352.3 410.2 2347.2 413.5 2350.0 416.8 2353.0 420.2 2347.5 423.5 2347.5 426.8 2353.2 430.2 2351.6 433.5 2355.0 437.2 2363.8 441.0 2365.0 448.5 2352.5 458.5 2370.0 461.8 2368.2 465.2 2367.9 468.5 2367.5 472.2 2372.9 476.0 2375.0 479.8 2378.7 483.5 2377.5 496.0 2357.5 502.0 2377.5 505.0 2374.6 508.0 2375.2 511.0 2372.5 514.3 2374.0 517.7 2378.8 521.0 2380.0 524.3 2374.5 527.7 2378.3 531.0 2375.0 534.3 2377.0 537.7 2385.1 541.0 2385.0 544.3 2383.2 547.7 2384.6 551.0 2382.5 554.3 2382.7 557.7 2388.4 561.0 2392.5 566.0 2375.0 569.3 2378.8 572.7 2385.7 576.0 2389.0 579.3 2389.2 582.7 2396.8 586.0 2395.0 589.8 2393.8 593.5 2397.5 597.0 2400.0 602.0 2380.0 605.2 2381.9 608.5 2385.0 611.8 2380.6 615.2 2382.6 618.5 2382.5 626.0 2365.0 633.5 2335.0 640.0 2307.5 645.0 2297.5 650.0 2310.0 656.0 2345.0 663.5 2375.0 673.5 2392.5 676.8 2392.8 680.2 2400.4 683.5 2402.5 687.2 2400.7 691.0 2406.0 694.8 2402.0 698.5 2400.0 701.8 2396.8 705.2 2396.4 708.5 2392.5 715.0 2380.0 720.0 2350.0 726.0 2320.0 732.0 2302.5 737.5 2320.0 743.5 2350.0 751.0 2385.0 758.5 2400.0 762.2 2396.1 766.0 2395.0 769.8 2396.3 773.5 2392.5 781.0 2360.0 788.5 2320.0 796.0 2292.5 802.0 2315.0 808.5 2360.0 815.0 2405.0 821.0 2422.5 824.3 2424.7 827.7 2430.0 831.0 2432.5 834.3 2433.4 837.7 2441.8 841.0 2442.5 844.8 2440.1 848.5 2445.0 851.8 2444.0 855.2 2442.7 858.5 2440.0 861.6 2442.4 864.8 2443.7 867.9 2445.5 871.0 2445.0 874.8 2442.4 878.5 2450.4 882.2 2449.3 886.0 2450.0 889.8 2450.0 893.5 2445.8 897.2 2448.8 901.0 2447.5 904.8 2446.6 908.5 2451.6 912.2 2450.4 916.0 2452.5 919.8 2454.7 923.5 2447.7 927.2 2453.1 931.0 2449.0 934.8 2447.5 938.5 2453.1 942.2 2447.8 946.0 2450.0 949.8 2452.8 953.5 2446.1 957.2 2450.6 961.0 2447.5 964.8 2447.9 968.5 2453.9 972.2 2448.3 976.0 2452.5 979.8 2456.1 983.5 2451.7 987.2 2455.2 991.0 2455.0 994.0 2454.3 997.0 2457.2 1000.0 2455.0 1003.3 2453.4 1006.7 2460.3 1010.0 2459.0 1013.1 2458.5 1016.2 2458.1 1019.4 2455.9 1022.5 2454.0 1025.8 2458.8 1029.2 2454.3 1032.5 2457.5 1035.6 2458.5 1038.8 2455.0 1041.9 2458.9 1045.0 2455.0 1048.3 2450.7 1051.7 2455.9 1055.0 2452.5 1058.1 2452.7 1061.2 2458.4 1064.4 2453.3 1067.5 2457.5 1070.6 2457.6 1073.8 2457.2 1076.9 2461.4 1080.0 2461.0 1083.8 2454.1 1087.5 2452.5 1090.8 2455.8 1094.2 2452.0 1097.5 2457.5 1100.6 2456.5 1103.8 2458.0 1106.9 2458.6 1110.0 2455.0 1113.1 2452.8 1116.2 2453.4 1119.4 2454.2 1122.5 2452.5 1125.6 2457.1 1128.8 2455.5 1131.9 2458.9 1135.0 2457.5 1138.8 2454.2 1142.5 2459.5 1146.2 2457.1 1150.0 2455.0 1153.3 2452.3 1156.7 2451.0 1160.0 2450.0 1163.3 2446.9 1166.7 2445.2 1170.0 2445.0 1173.3 2447.6 1176.7 2441.7 1180.0 2444.0 1183.0 2445.4 1186.0 2444.8 1189.0 2442.5 1193.2 2449.9 1197.5 2450.0 1201.2 2454.0 1205.0 2460.0 1208.3 2464.7 1211.7 2462.2 1215.0 2466.0 1218.1 2469.2 1221.2 2461.8 1224.4 2468.0 1227.5 2465.0 1230.6 2463.0 1233.8 2469.7 1236.9 2466.7 1240.0 2469.0 1243.1 2471.8 1246.2 2464.6 1249.4 2467.6 1252.5 2465.0 1255.6 2462.2 1258.8 2467.1 1261.9 2464.5 1265.0 2467.5 1268.1 2465.5 1271.2 2467.4 1274.4 2463.3 1277.5 2464.0 1280.6 2463.6 1283.8 2466.0 1286.9 2465.5 1290.0 2469.0 1293.3 2473.5 1296.7 2467.6 1300.0 2472.5 1303.3 2468.1 1306.7 2466.2 1310.0 2465.0 1313.1 2468.0 1316.2 2465.3 1319.4 2472.9 1322.5 2471.0 1325.8 2467.4 1329.2 2470.4 1332.5 2465.0 1335.8 2464.6 1339.2 2470.5 1342.5 2467.5 1345.6 2466.3 1348.8 2472.4 1351.9 2472.5 1355.0 2472.5 1358.3 2476.8 1361.7 2471.6 1365.0 2474.0 1368.1 2475.2 1371.2 2472.9 1374.4 2472.6 1377.5 2469.0 1380.8 2463.1 1384.2 2466.1 1387.5 2462.5 1390.8 2465.3 1394.2 2473.5 1397.5 2474.0 1400.6 2471.1 1403.8 2473.7 1406.9 2473.6 1410.0 2471.0 1413.8 2469.2 1417.5 2469.3 1421.2 2473.1 1425.0 2470.0 1428.8 2468.0 1432.5 2470.4 1436.2 2468.3 1440.0 2469.0 1443.8 2467.5 1447.5 2465.2 1451.2 2468.6 1455.0 2466.0 1458.3 2466.8 1461.7 2466.6 1465.0 2465.0 1468.8 2458.5 1472.5 2457.5 1480.0 2445.0 1483.8 2449.7 1487.5 2447.5 1495.0 2427.5 1501.0 2440.0 1507.5 2455.0 1510.8 2454.1 1514.2 2463.0 1517.5 2462.5 1520.8 2460.6 1524.2 2467.5 1527.5 2467.5 1530.6 2467.1 1533.8 2467.5 1536.9 2468.7 1540.0 2471.0 1543.1 2471.5 1546.2 2470.2 1549.4 2473.1 1552.5 2476.0 1555.8 2471.2 1559.2 2471.0 1562.5 2467.5 1565.6 2465.5 1568.8 2467.4 1571.9 2467.9 1575.0 2471.0 1578.1 2472.8 1581.2 2470.6 1584.4 2469.0 1587.5 2469.0 1590.6 2467.1 1593.8 2468.8 1596.9 2469.3 1600.0 2471.0 1603.0 2473.2 1606.0 2470.5 1609.0 2467.5 1612.3 2469.1 1615.7 2467.0 1619.0 2470.0 1622.3 2470.0 1625.7 2464.4 1629.0 2465.0 1632.3 2465.7 1635.7 2466.1 1639.0 2471.0 1642.1 2471.3 1645.2 2466.2 1648.4 2467.8 1651.5 2467.5 1654.6 2469.0 1657.8 2471.8 1660.9 2465.7 1664.0 2469.0 1667.3 2470.3 1670.7 2463.8 1674.0 2465.0 1677.8 2463.8 1681.5 2455.0 1686.5 2445.0 1689.8 2447.3 1693.0 2452.5 1700.0 2440.0 1704.0 2446.8 1708.0 2447.5 1711.5 2446.7 1715.0 2452.5 1718.3 2458.2 1721.7 2453.9 1725.0 2459.0 1728.3 2464.1 1731.7 2464.5 1735.0 2465.0 1738.0 2468.7 1741.0 2468.4 1744.0 2471.0 1747.8 2470.2 1751.5 2464.0 1758.0 2477.5 1762.2 2471.9 1766.5 2469.0 1769.6 2472.3 1772.8 2467.2 1775.9 2472.9 1779.0 2471.0 1782.1 2466.6 1785.2 2472.9 1788.4 2471.4 1791.5 2469.0 1794.6 2472.5 1797.8 2469.3 1800.9 2471.2 1804.0 2472.5 1807.8 2474.7 1811.5 2475.0 1819.0 2462.5 1822.3 2466.4 1825.7 2465.1 1829.0 2470.0 1832.7 2474.6 1836.3 2467.8 1840.0 2472.5 1843.8 2468.0 1847.7 2464.3 1851.5 2464.0 1855.2 2466.5 1859.0 2467.5 1862.8 2461.4 1866.5 2457.5 1870.2 2456.1 1874.0 2452.5 1877.0 2450.6 1880.0 2446.0 1886.5 2457.5 1889.8 2462.1 1893.2 2456.8 1896.5 2460.0 1899.6 2462.4 1902.8 2458.5 1905.9 2463.4 1909.0 2462.5 1912.1 2463.7 1915.2 2462.6 1918.4 2462.5 1921.5 2464.0 1924.8 2467.5 1928.2 2468.9 1931.5 2469.0 1934.8 2474.9 1938.2 2472.2 1941.5 2475.0 1944.8 2478.3 1948.2 2473.9 1951.5 2479.0 1954.8 2479.2 1958.2 2471.7 1961.5 2472.5 1964.6 2477.2 1967.8 2475.5 1970.9 2477.8 1974.0 2476.0 1977.1 2476.1 1980.2 2473.8 1983.4 2472.4 1986.5 2474.0 1989.6 2477.0 1992.8 2473.2 1995.9 2479.8 1999.0 2477.5 2002.1 2472.7 2005.2 2478.8 2008.4 2473.9 2011.5 2474.0 2014.6 2478.4 2017.8 2474.7 2020.9 2480.6 2024.0 2479.0 2027.3 2473.8 2030.7 2472.1 2034.0 2471.0 2037.3 2472.6 2040.7 2480.6 2044.0 2480.0 2047.3 2481.7 2050.7 2484.1 2054.0 2484.0 2057.3 2483.7 2060.7 2479.5 2064.0 2479.0 2067.8 2478.6 2071.5 2482.4 2075.2 2478.7 2079.0 2481.0 2082.8 2481.4 2086.5 2476.2 2090.2 2478.0 2094.0 2477.5 2097.8 2474.9 2101.5 2481.9 2105.2 2477.4 2109.0 2480.0 2112.8 2482.3 2116.5 2475.2 2120.2 2478.7 2124.0 2476.0 2127.3 2471.8 2130.7 2475.7 2134.0 2472.5 2137.8 2476.6 2141.5 2482.5 2144.8 2479.9 2148.2 2475.7 2151.5 2476.0 2154.6 2478.4 2157.8 2476.6 2160.9 2475.8 2164.0 2474.0 2167.8 2473.6 2171.5 2478.0 2175.2 2476.3 2179.0 2476.0 2182.8 2478.5 2186.5 2478.4 2190.2 2481.2 2194.0 2479.0 2197.8 2475.0 2201.5 2481.9 2205.2 2474.6 2209.0 2477.5 2212.8 2479.8 2216.5 2475.1 2220.2 2480.8 2224.0 2480.0 2227.8 2478.0 2231.5 2481.4 2235.2 2478.0 2239.0 2479.0 2242.8 2483.1 2246.5 2477.4 2250.2 2482.8 2254.0 2482.5 2257.3 2477.3 2260.7 2479.8 2264.0 2477.5 2267.3 2474.3 2270.7 2479.6 2274.0 2475.0 2277.8 2480.4 2281.5 2482.5 2284.8 2485.7 2288.2 2484.6 2291.5 2485.0" fill="none" stroke="#0a0a0a" stroke-width="7.0" stroke-linejoin="round" stroke-linecap="butt"/>
<path d="M637.5 2318.1 640.0 2307.5 645.0 2297.5 650.0 2310.0 652.5 2324.6ZM724.5 2327.5 726.0 2320.0 732.0 2302.5 737.5 2320.0 739.5 2330.0ZM788.5 2320.0 796.0 2292.5 802.0 2315.0 803.5 2325.4Z" fill="#0a0a0a" stroke="none"/>
<path d="M245.0 2545.0 247.0 2562.5 250.0 2560.3 253.0 2561.1 256.0 2562.5 263.5 2550.0 266.8 2550.2 270.2 2553.2 273.5 2552.5 276.8 2550.5 280.2 2556.6 283.5 2555.0 286.8 2553.1 290.2 2554.5 293.5 2552.5 296.8 2550.1 300.2 2550.0 303.5 2547.5 306.8 2544.1 310.2 2542.5 313.5 2542.5 316.8 2540.9 320.2 2539.7 323.5 2540.0 326.8 2537.8 330.2 2544.3 333.5 2545.0 337.2 2541.5 341.0 2540.0 344.8 2543.7 348.5 2550.0 351.8 2550.6 355.2 2549.5 358.5 2547.5 361.8 2547.3 365.2 2553.4 368.5 2552.5 371.8 2552.6 375.2 2553.8 378.5 2550.0 381.0 2542.4 383.5 2542.5 391.0 2557.5 394.3 2560.9 397.7 2558.0 401.0 2562.5 404.3 2566.0 407.7 2565.7 411.0 2570.0 414.8 2568.3 418.5 2560.0 421.8 2563.5 425.2 2570.3 428.5 2572.5 431.6 2570.6 434.8 2573.1 437.9 2569.7 441.0 2570.0 444.1 2571.2 447.2 2569.3 450.4 2571.7 453.5 2570.0 456.8 2572.6 460.2 2577.9 463.5 2580.0 466.8 2581.2 470.2 2588.8 473.5 2590.0 476.8 2587.2 480.2 2585.8 483.5 2585.0 486.8 2584.4 490.2 2590.6 493.5 2592.5 496.8 2587.7 500.2 2588.5 503.5 2587.5 507.2 2591.8 511.0 2597.5 514.3 2598.0 517.7 2592.0 521.0 2587.5 524.3 2588.3 527.7 2582.5 531.0 2585.0 534.3 2591.3 537.7 2592.8 541.0 2600.0 544.8 2606.5 548.5 2610.0 551.8 2613.4 555.2 2614.9 558.5 2615.0 562.2 2612.2 566.0 2612.5 569.0 2617.3 572.0 2617.5 578.5 2600.0 586.0 2615.0 589.8 2617.1 593.5 2625.0 596.8 2626.5 600.0 2625.0 606.0 2607.5 609.8 2602.1 613.5 2602.5 617.2 2604.8 621.0 2605.0 628.5 2585.0 635.0 2550.0 640.0 2540.0 646.0 2555.0 652.0 2585.0 658.5 2612.5 662.2 2609.3 666.0 2610.0 671.0 2622.5 674.8 2629.5 678.5 2632.5 682.2 2628.8 686.0 2630.0 691.0 2642.5 698.5 2627.5 702.2 2628.6 706.0 2622.5 713.5 2610.0 720.0 2590.0 726.0 2577.5 729.8 2573.1 733.5 2575.0 740.0 2587.5 746.0 2607.5 753.5 2622.5 757.2 2628.8 761.0 2630.0 763.5 2630.5 766.0 2637.5 771.0 2622.5 778.5 2595.0 786.0 2567.5 793.5 2550.0 800.0 2572.5 807.0 2610.0 813.5 2645.0 817.2 2650.5 821.0 2652.5 823.5 2647.0 826.0 2647.5 832.0 2675.0 835.2 2678.1 838.5 2680.0 842.2 2672.7 846.0 2672.5 849.3 2678.6 852.7 2675.1 856.0 2680.0 859.1 2680.1 862.2 2680.2 865.4 2686.7 868.5 2684.0 871.6 2682.5 874.8 2686.7 877.9 2683.7 881.0 2687.5 884.8 2689.5 888.5 2687.1 892.2 2688.8 896.0 2690.0 899.8 2689.0 903.5 2694.4 907.2 2688.2 911.0 2692.5 914.8 2692.6 918.5 2692.3 922.2 2693.4 926.0 2690.0 929.8 2689.9 933.5 2690.6 937.2 2692.0 941.0 2695.0 944.8 2696.9 948.5 2694.9 952.2 2699.1 956.0 2697.5 959.3 2694.7 962.7 2696.8 966.0 2692.5 968.5 2687.3 971.0 2685.0 974.3 2692.6 977.7 2692.0 981.0 2697.5 984.8 2700.0 988.5 2693.4 992.2 2699.4 996.0 2695.0 1000.0 2700.0 1003.3 2695.8 1006.7 2700.3 1010.0 2696.0 1013.3 2691.8 1016.7 2691.2 1020.0 2690.0 1026.0 2677.5 1030.0 2674.9 1034.0 2675.0 1040.0 2692.5 1043.8 2695.5 1047.5 2700.0 1050.8 2695.1 1054.2 2700.4 1057.5 2695.0 1060.8 2695.6 1064.2 2703.6 1067.5 2702.5 1070.8 2699.8 1074.2 2702.5 1077.5 2697.5 1080.6 2695.6 1083.8 2702.6 1086.9 2699.3 1090.0 2702.5 1093.3 2702.7 1096.7 2700.8 1100.0 2697.5 1103.1 2700.0 1106.2 2696.2 1109.4 2702.0 1112.5 2702.5 1115.6 2697.8 1118.8 2701.8 1121.9 2699.5 1125.0 2697.5 1128.3 2700.1 1131.7 2694.5 1135.0 2695.0 1138.1 2697.5 1141.2 2699.1 1144.4 2701.8 1147.5 2702.5 1150.6 2701.4 1153.8 2699.9 1156.9 2693.4 1160.0 2695.0 1163.1 2695.7 1166.2 2692.1 1169.4 2696.6 1172.5 2694.0 1175.8 2689.4 1179.2 2694.0 1182.5 2690.0 1185.8 2689.0 1189.2 2695.3 1192.5 2695.0 1196.2 2697.0 1200.0 2705.0 1203.1 2709.3 1206.2 2702.8 1209.4 2710.6 1212.5 2707.5 1215.6 2704.3 1218.8 2707.6 1221.9 2705.4 1225.0 2702.5 1228.1 2704.2 1231.2 2707.2 1234.4 2709.5 1237.5 2711.0 1240.6 2711.0 1243.8 2715.6 1246.9 2710.2 1250.0 2715.0 1253.1 2712.1 1256.2 2711.7 1259.4 2714.2 1262.5 2711.0 1265.8 2709.2 1269.2 2716.1 1272.5 2715.0 1275.6 2715.1 1278.8 2716.3 1281.9 2709.3 1285.0 2712.5 1288.3 2717.8 1291.7 2714.3 1295.0 2717.5 1298.1 2718.4 1301.2 2713.6 1304.4 2714.8 1307.5 2711.0 1310.8 2706.5 1314.2 2710.4 1317.5 2707.5 1320.8 2706.6 1324.2 2711.4 1327.5 2715.0 1330.6 2711.7 1333.8 2715.5 1336.9 2711.3 1340.0 2712.5 1343.1 2712.3 1346.2 2706.3 1349.4 2710.2 1352.5 2707.5 1355.6 2708.5 1358.8 2709.9 1361.9 2710.7 1365.0 2715.0 1368.1 2716.5 1371.2 2711.4 1374.4 2715.9 1377.5 2711.0 1380.6 2710.0 1383.8 2714.7 1386.9 2713.5 1390.0 2716.0 1393.1 2716.9 1396.2 2710.6 1399.4 2715.1 1402.5 2712.5 1405.6 2711.2 1408.8 2712.4 1411.9 2715.8 1415.0 2715.0 1418.1 2715.4 1421.2 2709.1 1424.4 2713.2 1427.5 2711.0 1430.6 2710.2 1433.8 2711.8 1436.9 2710.5 1440.0 2714.0 1443.1 2714.9 1446.2 2707.0 1449.4 2712.8 1452.5 2707.5 1455.8 2707.0 1459.2 2713.8 1462.5 2712.5 1466.2 2706.1 1470.0 2702.5 1473.8 2701.7 1477.5 2695.0 1481.2 2692.7 1485.0 2696.0 1488.0 2695.6 1491.0 2690.1 1494.0 2686.0 1498.2 2694.0 1502.5 2695.0 1506.2 2698.1 1510.0 2705.0 1513.3 2705.7 1516.7 2706.6 1520.0 2712.5 1523.8 2716.6 1527.5 2717.5 1530.8 2715.1 1534.2 2710.5 1537.5 2707.5 1541.2 2711.6 1545.0 2714.0 1548.8 2711.7 1552.5 2707.5 1556.2 2708.9 1560.0 2714.0 1563.8 2713.3 1567.5 2707.5 1571.2 2712.2 1575.0 2719.0 1578.1 2722.1 1581.2 2714.6 1584.4 2717.0 1587.5 2717.5 1590.6 2712.6 1593.8 2717.4 1596.9 2712.3 1600.0 2712.5 1603.0 2711.5 1606.0 2715.5 1609.0 2715.0 1612.1 2717.7 1615.2 2711.0 1618.4 2713.8 1621.5 2712.5 1624.6 2710.1 1627.8 2712.1 1630.9 2708.3 1634.0 2710.0 1637.1 2715.3 1640.2 2711.3 1643.4 2719.0 1646.5 2717.5 1649.8 2717.6 1653.2 2717.4 1656.5 2712.5 1659.8 2710.7 1663.2 2715.5 1666.5 2715.0 1670.2 2708.0 1674.0 2707.5 1677.3 2710.7 1680.7 2706.3 1684.0 2710.0 1687.8 2707.7 1691.5 2700.0 1695.8 2695.8 1700.0 2690.0 1704.0 2694.5 1708.0 2700.0 1712.2 2705.7 1716.5 2707.5 1719.6 2707.5 1722.8 2706.2 1725.9 2712.4 1729.0 2712.5 1732.1 2710.3 1735.2 2716.3 1738.4 2713.5 1741.5 2717.5 1744.6 2720.3 1747.8 2715.2 1750.9 2721.7 1754.0 2719.0 1757.1 2714.9 1760.2 2716.4 1763.4 2713.4 1766.5 2715.0 1769.8 2715.1 1773.2 2711.4 1776.5 2712.5 1779.8 2718.3 1783.2 2716.8 1786.5 2722.5 1789.8 2723.6 1793.2 2714.0 1796.5 2715.0 1799.8 2712.3 1803.2 2711.7 1806.5 2712.5 1810.2 2719.0 1814.0 2720.0 1817.3 2718.1 1820.7 2713.1 1824.0 2712.5 1827.1 2712.6 1830.2 2718.3 1833.4 2712.4 1836.5 2717.5 1839.8 2717.0 1843.2 2713.3 1846.5 2710.0 1849.8 2712.9 1853.2 2705.6 1856.5 2707.5 1859.8 2707.9 1863.2 2706.2 1866.5 2705.0 1869.8 2708.0 1873.2 2703.0 1876.5 2707.5 1880.2 2707.8 1884.0 2702.5 1887.8 2704.3 1891.5 2712.5 1895.2 2713.8 1899.0 2707.5 1902.0 2707.2 1905.0 2713.6 1908.0 2715.0 1911.5 2721.0 1915.0 2725.0 1921.5 2705.0 1924.8 2708.8 1928.2 2708.8 1931.5 2712.5 1934.8 2716.7 1938.2 2714.6 1941.5 2720.0 1944.6 2723.3 1947.8 2721.3 1950.9 2727.4 1954.0 2725.0 1957.8 2728.9 1961.5 2730.0 1969.0 2712.5 1979.0 2730.0 1982.3 2725.5 1985.7 2721.7 1989.0 2720.0 1992.1 2722.4 1995.2 2719.5 1998.4 2722.0 2001.5 2725.0 2004.8 2725.0 2008.2 2729.3 2011.5 2727.5 2014.6 2728.1 2017.8 2730.1 2020.9 2727.4 2024.0 2725.0 2027.8 2725.9 2031.5 2722.3 2035.2 2722.4 2039.0 2722.5 2042.8 2722.2 2046.5 2728.0 2050.2 2722.3 2054.0 2726.0 2057.8 2725.8 2061.5 2723.2 2065.2 2725.4 2069.0 2722.5 2072.8 2724.0 2076.5 2722.5 2080.2 2726.6 2084.0 2726.0 2087.8 2728.6 2091.5 2726.0 2095.2 2732.4 2099.0 2730.0 2102.8 2729.4 2106.5 2729.6 2110.2 2728.8 2114.0 2726.0 2117.8 2728.4 2121.5 2728.0 2125.2 2729.7 2129.0 2729.0 2132.8 2726.5 2136.5 2728.0 2140.2 2724.9 2144.0 2725.0 2147.8 2729.0 2151.5 2725.0 2155.2 2729.9 2159.0 2729.0 2162.8 2724.6 2166.5 2728.4 2170.2 2723.9 2174.0 2726.0 2177.8 2727.2 2181.5 2726.6 2185.2 2724.8 2189.0 2725.0 2192.8 2724.3 2196.5 2729.1 2200.2 2723.3 2204.0 2727.5 2207.1 2729.5 2210.2 2727.2 2213.4 2723.1 2216.5 2724.0 2219.8 2725.6 2223.2 2734.4 2226.5 2735.0 2229.8 2730.0 2233.2 2726.8 2236.5 2725.0 2239.6 2722.5 2242.8 2728.9 2245.9 2729.5 2249.0 2729.0 2252.3 2725.5 2255.7 2722.0 2259.0 2720.0 2262.3 2722.2 2265.7 2726.2 2269.0 2732.5 2272.1 2732.9 2275.2 2729.1 2278.4 2728.0 2281.5 2727.5 2284.8 2725.6 2288.2 2728.8 2291.5 2725.0" fill="none" stroke="#0a0a0a" stroke-width="7.0" stroke-linejoin="round" stroke-linecap="butt"/>
<path d="M632.5 2563.5 635.0 2550.0 640.0 2540.0 646.0 2555.0 647.5 2562.5ZM786.0 2567.5 793.5 2550.0 800.0 2572.5 801.0 2577.9Z" fill="#0a0a0a" stroke="none"/>
<path d="M245.0 2790.0 248.5 2825.0 251.8 2825.2 255.2 2831.2 258.5 2830.0 261.8 2828.0 265.2 2829.4 268.5 2827.5 275.0 2802.5 283.5 2820.0 286.8 2818.2 290.2 2815.7 293.5 2810.0 296.8 2809.3 300.2 2815.0 303.5 2812.5 306.8 2810.2 310.2 2810.2 313.5 2807.5 316.8 2806.7 320.2 2815.8 323.5 2815.0 326.8 2812.1 330.2 2818.1 333.5 2817.5 336.8 2813.6 340.2 2816.6 343.5 2812.5 346.8 2809.9 350.2 2810.0 353.5 2810.0 356.8 2808.4 360.2 2817.2 363.5 2815.0 366.8 2815.1 370.2 2821.0 373.5 2822.5 377.2 2828.5 381.0 2832.5 384.3 2829.6 387.7 2822.7 391.0 2820.0 394.3 2825.1 397.7 2824.0 401.0 2827.5 404.3 2830.5 407.7 2829.6 411.0 2832.5 418.5 2815.0 428.5 2832.5 436.0 2845.0 439.3 2843.3 442.7 2836.3 446.0 2837.5 449.3 2839.6 452.7 2836.2 456.0 2835.0 459.3 2842.4 462.7 2844.7 466.0 2847.5 469.3 2852.0 472.7 2849.0 476.0 2855.0 479.3 2857.9 482.7 2856.5 486.0 2860.0 489.3 2858.5 492.7 2852.4 496.0 2852.5 499.3 2853.0 502.7 2848.3 506.0 2850.0 509.3 2854.3 512.7 2853.3 516.0 2857.5 519.1 2858.6 522.2 2856.5 525.4 2858.3 528.5 2857.5 531.6 2856.9 534.8 2862.0 537.9 2864.0 541.0 2865.0 544.1 2866.8 547.2 2866.5 550.4 2870.2 553.5 2870.0 557.2 2867.9 561.0 2867.5 564.3 2871.8 567.7 2871.9 571.0 2875.0 574.3 2878.9 577.7 2876.0 581.0 2880.0 583.5 2885.3 586.0 2885.0 589.8 2879.3 593.5 2875.0 597.2 2877.4 601.0 2872.5 608.5 2885.0 616.0 2870.0 619.8 2871.1 623.5 2875.0 628.5 2885.0 636.0 2865.0 639.3 2867.6 642.7 2860.8 646.0 2862.5 649.3 2864.7 652.7 2862.9 656.0 2865.0 663.5 2885.0 667.2 2883.2 671.0 2880.0 678.5 2895.0 681.8 2895.0 685.2 2895.4 688.5 2897.5 692.2 2900.3 696.0 2900.0 699.0 2903.8 702.0 2901.6 705.0 2905.0 709.2 2899.0 713.5 2895.0 717.2 2894.2 721.0 2890.0 728.5 2877.5 732.2 2884.6 736.0 2885.0 739.3 2882.6 742.7 2883.0 746.0 2882.5 753.5 2897.5 756.8 2894.1 760.2 2897.7 763.5 2892.5 766.8 2895.5 770.0 2900.0 776.0 2880.0 783.5 2850.0 790.0 2830.0 792.5 2828.5 795.0 2825.0 801.0 2845.0 808.5 2880.0 815.0 2902.5 821.0 2912.5 826.0 2927.5 832.0 2912.5 838.5 2925.0 841.8 2925.8 845.2 2928.8 848.5 2932.5 851.8 2933.6 855.2 2934.1 858.5 2937.5 861.8 2937.8 865.0 2942.5 869.2 2938.0 873.5 2930.0 876.8 2927.0 880.2 2929.5 883.5 2925.0 887.2 2917.7 891.0 2915.0 893.5 2919.5 896.0 2920.0 903.5 2942.5 906.6 2940.7 909.8 2942.5 912.9 2944.1 916.0 2946.0 919.1 2948.8 922.2 2943.4 925.4 2943.7 928.5 2944.0 931.6 2946.1 934.8 2946.0 937.9 2946.3 941.0 2951.0 944.8 2954.6 948.5 2948.5 952.2 2953.6 956.0 2950.0 959.8 2949.1 963.5 2952.2 967.2 2948.0 971.0 2952.5 974.8 2952.7 978.5 2951.0 982.2 2949.4 986.0 2947.5 989.1 2947.4 992.2 2952.2 995.0 2948.7 998.5 2950.1 1002.0 2947.1 1005.5 2947.9 1009.0 2944.6 1012.5 2943.7 1016.0 2938.6 1018.0 2933.9 1020.0 2927.1 1022.0 2917.3 1024.0 2904.3 1025.2 2894.8 1026.4 2884.4 1027.6 2873.4 1028.8 2862.5 1030.0 2852.5 1031.2 2844.8 1032.4 2840.5 1033.6 2840.6 1034.8 2844.9 1036.0 2852.7 1037.2 2862.7 1038.4 2873.8 1039.6 2884.9 1040.8 2895.3 1042.0 2904.8 1043.2 2913.2 1045.2 2924.4 1047.2 2932.4 1049.2 2938.0 1051.2 2941.8 1054.7 2945.3 1058.2 2949.0 1061.7 2948.7 1065.2 2951.5 1068.7 2950.2 1071.2 2951.9 1074.4 2951.2 1077.5 2950.0 1080.6 2953.5 1083.8 2948.5 1086.9 2955.3 1090.0 2954.0 1093.1 2952.3 1096.2 2956.0 1099.4 2954.8 1102.5 2952.5 1105.8 2952.4 1109.2 2957.5 1112.5 2957.5 1115.6 2957.6 1118.8 2952.6 1121.9 2957.8 1125.0 2955.0 1128.1 2954.9 1131.2 2958.1 1134.4 2955.6 1137.5 2960.0 1140.8 2956.8 1144.2 2952.1 1147.5 2952.5 1150.8 2958.6 1154.2 2956.6 1157.5 2960.0 1161.2 2967.4 1165.0 2967.5 1168.3 2960.8 1171.7 2963.8 1175.0 2957.5 1178.1 2955.6 1181.2 2959.8 1184.4 2960.7 1187.5 2960.0 1190.8 2960.2 1194.2 2952.7 1197.5 2952.5 1200.8 2959.3 1204.2 2955.9 1207.5 2962.5 1210.6 2963.7 1213.8 2956.3 1216.9 2962.5 1220.0 2957.5 1223.1 2956.6 1226.2 2964.1 1229.4 2962.3 1232.5 2965.0 1235.6 2965.1 1238.8 2958.1 1241.9 2961.4 1245.0 2957.5 1252.5 2972.5 1255.8 2966.7 1259.2 2966.7 1262.5 2962.5 1265.6 2963.9 1268.8 2969.1 1271.9 2968.7 1275.0 2972.5 1278.3 2970.7 1281.7 2967.7 1285.0 2962.5 1288.3 2963.7 1291.7 2965.0 1295.0 2967.5 1298.1 2968.1 1301.2 2969.4 1304.4 2972.0 1307.5 2972.5 1310.6 2970.0 1313.8 2975.3 1316.9 2969.6 1320.0 2972.5 1323.1 2969.5 1326.2 2969.2 1329.4 2971.1 1332.5 2967.5 1335.6 2968.5 1338.8 2969.2 1341.9 2963.6 1345.0 2965.0 1348.1 2965.9 1351.2 2961.3 1354.4 2964.6 1357.5 2962.5 1360.6 2962.8 1363.8 2966.1 1366.9 2962.5 1370.0 2967.5 1373.3 2972.4 1376.7 2971.6 1380.0 2972.5 1383.8 2966.5 1387.5 2962.5 1390.8 2957.1 1394.2 2959.5 1397.5 2955.0 1401.2 2952.4 1405.0 2952.5 1408.3 2953.3 1411.7 2957.6 1415.0 2957.5 1418.3 2960.1 1421.7 2957.5 1425.0 2962.5 1428.3 2960.7 1431.7 2960.2 1435.0 2960.0 1438.3 2961.8 1441.7 2966.8 1445.0 2967.5 1448.1 2970.5 1451.2 2971.5 1454.4 2974.3 1457.5 2972.5 1460.6 2968.6 1463.8 2973.2 1466.9 2965.6 1470.0 2967.5 1473.3 2968.2 1476.7 2961.5 1480.0 2962.5 1483.1 2961.9 1486.2 2958.3 1489.4 2960.3 1492.5 2957.5 1495.8 2957.3 1499.2 2963.4 1502.5 2962.5 1505.6 2958.7 1508.8 2963.6 1511.9 2957.6 1515.0 2960.0 1518.3 2965.2 1521.7 2964.5 1525.0 2965.0 1528.3 2964.7 1531.7 2959.4 1535.0 2960.0 1538.1 2962.6 1541.2 2960.7 1544.4 2963.9 1547.5 2967.5 1550.6 2965.0 1553.8 2967.5 1556.9 2967.5 1560.0 2970.0 1563.8 2974.3 1567.5 2973.5 1571.2 2976.7 1575.0 2975.0 1578.1 2970.1 1581.2 2973.2 1584.4 2968.4 1587.5 2967.5 1591.2 2965.9 1595.0 2962.5 1598.3 2963.3 1601.7 2972.9 1605.0 2972.5 1609.0 2972.5 1612.1 2974.3 1615.2 2977.0 1618.4 2975.1 1621.5 2975.0 1624.6 2975.1 1627.8 2967.8 1630.9 2970.1 1634.0 2967.5 1637.1 2967.5 1640.2 2972.2 1643.4 2970.2 1646.5 2972.5 1649.8 2971.8 1653.2 2971.7 1656.5 2975.0 1659.8 2974.6 1663.2 2965.5 1666.5 2965.0 1670.2 2965.6 1674.0 2961.0 1677.3 2964.2 1680.7 2963.8 1684.0 2967.5 1687.3 2970.3 1690.7 2969.6 1694.0 2972.5 1697.0 2967.7 1700.0 2967.1 1703.0 2960.0 1707.2 2960.9 1711.5 2967.5 1714.8 2967.7 1718.2 2967.2 1721.5 2965.0 1724.6 2966.7 1727.8 2963.9 1730.9 2969.8 1734.0 2967.5 1737.1 2967.3 1740.2 2967.6 1743.4 2966.7 1746.5 2970.0 1749.6 2972.2 1752.8 2972.8 1755.9 2973.9 1759.0 2972.5 1762.1 2970.3 1765.2 2975.2 1768.4 2972.3 1771.5 2975.0 1774.6 2977.7 1777.8 2974.2 1780.9 2979.3 1784.0 2980.0 1787.1 2975.6 1790.2 2977.6 1793.4 2971.5 1796.5 2972.5 1799.6 2972.9 1802.8 2972.3 1805.9 2968.9 1809.0 2970.0 1812.1 2967.6 1815.2 2971.5 1818.4 2967.0 1821.5 2967.5 1824.6 2972.3 1827.8 2967.0 1830.9 2974.2 1834.0 2972.5 1837.1 2971.2 1840.2 2975.0 1843.4 2970.5 1846.5 2974.0 1849.8 2979.1 1853.2 2979.2 1856.5 2979.0 1859.8 2973.9 1863.2 2968.8 1866.5 2967.5 1869.8 2967.9 1873.2 2966.2 1876.5 2964.0 1879.8 2967.2 1883.2 2968.9 1886.5 2970.0 1889.8 2969.1 1893.2 2962.8 1896.5 2962.5 1899.6 2962.8 1902.8 2962.4 1905.9 2967.2 1909.0 2967.5 1912.3 2970.6 1915.7 2969.0 1919.0 2972.5 1922.8 2966.4 1926.5 2962.5 1930.2 2963.2 1934.0 2957.5 1937.3 2955.3 1940.7 2957.4 1944.0 2960.0 1947.3 2963.6 1950.7 2964.4 1954.0 2965.0 1957.3 2960.5 1960.7 2963.7 1964.0 2961.0 1967.3 2960.9 1970.7 2966.2 1974.0 2967.5 1977.8 2963.0 1981.5 2960.0 1989.0 2972.5 1992.8 2979.3 1996.5 2982.5 1999.8 2976.7 2003.2 2976.2 2006.5 2975.0 2009.8 2978.2 2013.2 2982.1 2016.5 2980.0 2019.6 2978.2 2022.8 2977.3 2025.9 2973.5 2029.0 2976.0 2032.1 2976.7 2035.2 2973.5 2038.4 2976.1 2041.5 2972.5 2044.6 2973.4 2047.8 2977.2 2050.9 2979.0 2054.0 2980.0 2057.1 2982.1 2060.2 2983.5 2063.4 2982.6 2066.5 2985.0 2069.6 2980.3 2072.8 2983.4 2075.9 2977.5 2079.0 2977.5 2082.1 2977.1 2085.2 2977.2 2088.4 2978.3 2091.5 2980.0 2094.6 2977.9 2097.8 2979.8 2100.9 2974.4 2104.0 2976.0 2107.8 2979.4 2111.5 2977.3 2115.2 2979.0 2119.0 2982.5 2122.8 2980.0 2126.5 2983.7 2130.2 2980.5 2134.0 2977.5 2137.8 2976.6 2141.5 2975.4 2145.2 2981.6 2149.0 2980.0 2152.8 2977.7 2156.5 2981.4 2160.2 2975.0 2164.0 2976.0 2167.8 2978.2 2171.5 2974.6 2175.2 2980.8 2179.0 2980.0 2182.8 2979.5 2186.5 2981.8 2190.2 2984.6 2194.0 2985.0 2197.8 2984.2 2201.5 2978.5 2205.2 2980.8 2209.0 2977.5 2212.8 2979.4 2216.5 2979.6 2220.2 2977.2 2224.0 2980.0 2227.8 2979.6 2231.5 2982.0 2235.2 2981.2 2239.0 2982.5 2242.1 2981.6 2245.2 2976.5 2248.4 2973.7 2251.5 2972.5 2254.8 2979.6 2258.2 2977.5 2261.5 2982.5 2264.8 2979.0 2268.2 2975.5 2271.5 2975.0 2274.8 2980.2 2278.2 2979.6 2281.5 2985.0 2284.8 2985.2 2288.2 2976.9 2291.5 2975.0" fill="none" stroke="#0a0a0a" stroke-width="7.0" stroke-linejoin="round" stroke-linecap="butt"/>
<path d="M1024.9 2897.2 1025.2 2894.8 1026.4 2884.4 1027.6 2873.4 1028.8 2862.5 1030.0 2852.5 1031.2 2844.8 1032.4 2840.5 1033.6 2840.6 1034.8 2844.9 1036.0 2852.7 1037.2 2862.7 1038.4 2873.8 1039.6 2884.9 1039.9 2887.5Z" fill="#0a0a0a" stroke="none"/>
<path d="M245.0 3172.5 251.0 3150.0 254.3 3149.9 257.7 3154.4 261.0 3152.5 264.8 3154.8 268.5 3160.0 272.2 3158.0 276.0 3150.0 279.8 3150.9 283.5 3155.0 286.8 3153.1 290.0 3147.5 296.0 3135.0 302.0 3150.0 306.0 3145.3 310.0 3142.5 313.7 3146.9 317.3 3142.7 321.0 3145.0 324.1 3144.9 327.2 3145.1 330.4 3149.9 333.5 3150.0 336.8 3150.7 340.2 3154.2 343.5 3155.0 347.2 3154.9 351.0 3162.5 354.3 3163.9 357.7 3154.9 361.0 3155.0 364.8 3150.6 368.5 3149.0 371.8 3150.1 375.2 3155.7 378.5 3160.0 381.8 3158.2 385.2 3164.6 388.5 3165.0 397.0 3150.0 400.0 3152.9 403.0 3157.2 406.0 3162.5 409.1 3163.5 412.2 3160.5 415.4 3162.1 418.5 3160.0 428.5 3177.5 432.2 3172.6 436.0 3170.0 439.1 3170.3 442.2 3177.4 445.4 3175.3 448.5 3180.0 451.8 3181.7 455.2 3183.8 458.5 3189.0 461.8 3188.6 465.2 3181.7 468.5 3177.5 478.5 3195.0 481.8 3197.9 485.2 3194.4 488.5 3195.0 491.8 3203.7 495.0 3205.0 499.2 3197.0 503.5 3192.5 506.8 3199.5 510.2 3200.0 513.5 3202.5 516.8 3204.3 520.2 3199.4 523.5 3200.0 526.8 3204.4 530.2 3203.5 533.5 3211.0 536.8 3214.2 540.2 3212.6 543.5 3216.0 546.8 3212.8 550.2 3209.1 553.5 3207.5 556.6 3211.6 559.8 3207.3 562.9 3213.0 566.0 3210.0 575.0 3230.0 579.2 3223.1 583.5 3222.5 586.8 3222.4 590.2 3213.8 593.5 3215.0 596.8 3219.8 600.2 3218.2 603.5 3222.5 606.8 3225.1 610.2 3217.0 613.5 3219.0 621.0 3232.5 624.8 3239.9 628.5 3240.0 634.5 3222.5 637.5 3225.3 640.5 3233.0 643.5 3235.0 646.8 3239.1 650.2 3242.9 653.5 3245.0 660.0 3232.5 663.5 3235.2 667.0 3240.0 671.0 3235.8 675.0 3227.5 683.5 3245.0 687.3 3246.5 691.2 3253.1 695.0 3255.0 698.7 3253.0 702.3 3248.3 706.0 3246.0 709.7 3247.2 713.3 3248.1 717.0 3245.0 726.0 3262.5 733.5 3250.0 736.8 3250.6 740.2 3258.4 743.5 3260.0 746.6 3259.7 749.8 3265.7 752.9 3266.0 756.0 3270.0 761.0 3255.0 761.6 3254.2 765.1 3256.9 768.6 3255.7 772.1 3257.3 775.6 3255.4 779.1 3255.6 782.6 3252.6 786.1 3247.0 788.1 3241.0 790.1 3231.8 792.1 3218.4 794.1 3199.9 795.3 3186.3 796.5 3171.0 797.7 3154.5 798.9 3137.5 800.1 3121.5 801.3 3108.1 802.5 3099.3 803.7 3096.0 804.9 3101.3 806.1 3111.8 807.3 3126.6 808.5 3143.8 809.7 3161.6 810.9 3178.8 812.1 3194.7 813.3 3208.8 815.3 3228.2 817.3 3242.6 819.3 3252.8 821.3 3259.9 824.8 3267.7 828.3 3272.8 831.8 3274.8 835.3 3279.6 838.8 3280.2 842.3 3285.0 848.4 3285.6 851.8 3285.8 855.1 3280.9 858.5 3282.5 861.6 3284.1 864.8 3281.1 867.9 3281.1 871.0 3282.5 874.3 3273.6 877.7 3276.4 881.0 3267.5 887.5 3250.0 893.0 3222.5 898.5 3250.0 903.5 3285.0 906.8 3283.1 910.2 3290.2 913.5 3290.0 916.6 3290.8 919.8 3294.7 922.9 3293.7 926.0 3300.0 929.8 3301.1 933.5 3293.9 937.2 3296.4 941.0 3292.5 944.8 3292.9 948.5 3297.5 952.2 3294.3 956.0 3297.5 959.1 3303.2 962.2 3301.9 965.4 3306.6 968.5 3305.0 971.6 3301.3 974.8 3302.2 977.9 3298.0 981.0 3297.5 984.1 3301.3 987.2 3297.4 990.4 3297.4 993.5 3299.0 994.4 3297.7 997.9 3299.2 1001.4 3295.5 1004.9 3295.6 1008.4 3291.7 1011.9 3288.7 1015.4 3283.2 1018.9 3273.5 1022.4 3255.0 1024.4 3237.5 1026.4 3213.2 1028.4 3181.1 1029.6 3158.2 1030.8 3133.3 1032.0 3107.6 1033.2 3083.3 1034.4 3063.5 1035.6 3051.4 1036.8 3049.6 1038.0 3058.6 1039.2 3076.4 1040.4 3099.7 1041.6 3125.3 1042.8 3150.8 1044.0 3174.6 1045.2 3195.9 1046.4 3214.4 1048.4 3238.9 1050.4 3256.6 1052.4 3268.9 1054.4 3277.4 1057.9 3286.7 1061.4 3292.2 1064.9 3296.5 1068.4 3297.6 1071.9 3302.1 1075.4 3301.5 1080.0 3302.5 1083.1 3301.4 1086.2 3307.1 1089.4 3303.2 1092.5 3305.0 1096.2 3303.5 1100.0 3300.0 1107.5 3312.5 1110.6 3310.4 1113.8 3310.1 1116.9 3308.3 1120.0 3310.0 1123.1 3310.9 1126.2 3305.7 1129.4 3307.4 1132.5 3305.0 1135.8 3303.5 1139.2 3302.9 1142.5 3302.5 1145.6 3301.8 1148.8 3307.9 1151.9 3306.0 1155.0 3310.0 1158.8 3313.0 1162.5 3309.1 1166.2 3315.5 1170.0 3315.0 1173.8 3311.1 1177.5 3315.6 1181.2 3316.8 1185.0 3315.0 1188.8 3315.6 1192.5 3312.8 1196.2 3314.5 1200.0 3312.5 1203.3 3312.6 1206.7 3313.3 1210.0 3309.0 1213.1 3307.1 1216.2 3312.3 1219.4 3309.4 1222.5 3314.0 1225.6 3315.8 1228.8 3310.1 1231.9 3313.6 1235.0 3311.0 1238.1 3312.0 1241.2 3317.7 1244.4 3316.1 1247.5 3319.0 1250.6 3318.6 1253.8 3315.2 1256.9 3316.2 1260.0 3314.0 1263.8 3313.1 1267.5 3317.3 1271.2 3313.9 1275.0 3319.0 1278.1 3323.4 1281.2 3319.3 1284.4 3325.4 1287.5 3322.5 1290.6 3322.0 1293.8 3317.7 1296.9 3316.1 1300.0 3315.0 1303.8 3315.6 1307.5 3315.2 1311.2 3322.4 1315.0 3320.0 1318.1 3319.7 1321.2 3321.3 1324.4 3314.5 1327.5 3315.0 1330.8 3320.8 1334.2 3318.8 1337.5 3325.0 1340.8 3321.1 1344.2 3312.6 1347.5 3310.0 1351.8 3317.8 1356.0 3322.5 1359.3 3322.1 1362.7 3318.3 1366.0 3319.0 1369.0 3314.6 1372.0 3314.3 1375.0 3310.0 1378.3 3310.2 1381.7 3314.0 1385.0 3315.0 1388.3 3310.9 1391.7 3315.9 1395.0 3311.0 1398.8 3304.2 1402.5 3300.0 1405.8 3296.3 1409.0 3290.0 1412.0 3289.1 1415.0 3285.0 1421.0 3295.0 1427.5 3310.0 1430.8 3317.1 1434.2 3315.1 1437.5 3321.0 1440.6 3324.1 1443.8 3322.3 1446.9 3326.1 1450.0 3325.0 1453.8 3320.4 1457.5 3324.9 1461.2 3317.1 1465.0 3317.5 1468.1 3317.6 1471.2 3320.6 1474.4 3323.9 1477.5 3321.0 1481.2 3318.5 1485.0 3321.7 1488.8 3321.1 1492.5 3319.0 1495.6 3319.7 1498.8 3313.2 1501.9 3318.1 1505.0 3315.0 1508.8 3313.8 1512.5 3318.2 1516.2 3314.0 1520.0 3317.5 1523.8 3321.0 1527.5 3316.9 1531.2 3323.4 1535.0 3322.5 1538.1 3317.9 1541.2 3323.7 1544.4 3318.1 1547.5 3319.0 1550.6 3322.7 1553.8 3320.1 1556.9 3324.1 1560.0 3325.0 1563.8 3322.0 1567.5 3325.0 1571.2 3316.8 1575.0 3319.0 1578.3 3318.2 1581.7 3313.9 1585.0 3312.5 1592.5 3327.5 1595.6 3329.3 1598.8 3321.2 1601.9 3321.3 1605.0 3320.0 1609.0 3325.0 1612.1 3322.8 1615.2 3324.5 1618.4 3320.9 1621.5 3322.5 1624.6 3321.4 1627.8 3322.9 1630.9 3325.0 1634.0 3325.0 1637.1 3322.1 1640.2 3324.7 1643.4 3318.7 1646.5 3321.0 1649.6 3320.3 1652.8 3324.2 1655.9 3322.3 1659.0 3325.0 1662.1 3323.5 1665.2 3322.4 1668.4 3324.5 1671.5 3322.5 1674.6 3320.0 1677.8 3316.3 1680.9 3320.8 1684.0 3316.0 1687.3 3317.6 1690.7 3325.3 1694.0 3325.0 1697.1 3323.7 1700.2 3329.1 1703.4 3324.6 1706.5 3327.5 1709.8 3327.2 1713.2 3323.6 1716.5 3320.0 1719.8 3321.2 1723.2 3315.5 1726.5 3315.0 1729.8 3319.8 1733.2 3316.4 1736.5 3322.5 1739.8 3327.0 1743.2 3326.9 1746.5 3330.0 1749.8 3330.2 1753.2 3324.6 1756.5 3319.0 1759.6 3319.9 1762.8 3320.7 1765.9 3326.6 1769.0 3324.0 1772.1 3322.3 1775.2 3324.8 1778.4 3327.6 1781.5 3327.5 1784.8 3331.6 1788.2 3327.3 1791.5 3330.0 1799.0 3315.0 1802.3 3319.9 1805.7 3318.7 1809.0 3325.0 1812.3 3330.1 1815.7 3326.4 1819.0 3332.5 1822.1 3333.1 1825.2 3327.4 1828.4 3330.4 1831.5 3325.0 1834.6 3323.4 1837.8 3325.6 1840.9 3325.0 1844.0 3322.5 1847.1 3327.1 1850.2 3322.8 1853.4 3329.1 1856.5 3330.0 1859.6 3326.6 1862.8 3329.0 1865.9 3324.7 1869.0 3325.0 1872.1 3327.0 1875.2 3323.7 1878.4 3329.4 1881.5 3329.0 1884.6 3325.9 1887.8 3322.9 1890.9 3319.5 1894.0 3320.0 1897.1 3323.4 1900.2 3325.2 1903.4 3327.1 1906.5 3327.5 1909.6 3328.0 1912.8 3327.5 1915.9 3322.2 1919.0 3325.0 1922.3 3326.2 1925.7 3320.2 1929.0 3320.0 1932.3 3320.8 1935.7 3322.6 1939.0 3327.5 1946.5 3310.0 1954.0 3292.5 1957.8 3289.7 1961.5 3285.0 1965.2 3287.6 1969.0 3292.5 1976.5 3305.0 1980.2 3310.7 1984.0 3315.0 1991.5 3327.5 1994.6 3325.5 1997.8 3333.7 2000.9 3328.0 2004.0 3332.5 2007.1 3336.3 2010.2 3331.2 2013.4 3338.9 2016.5 3336.0 2019.6 3335.5 2022.8 3334.7 2025.9 3327.7 2029.0 3327.5 2032.3 3334.5 2035.7 3334.3 2039.0 3340.0 2042.3 3337.4 2045.7 3333.8 2049.0 3330.0 2052.1 3332.8 2055.2 3332.3 2058.4 3337.0 2061.5 3336.0 2064.6 3337.2 2067.8 3333.2 2070.9 3333.5 2074.0 3334.0 2077.8 3337.2 2081.5 3331.6 2085.2 3336.9 2089.0 3335.0 2092.8 3330.2 2096.5 3335.9 2100.2 3332.5 2104.0 3331.0 2107.8 3329.3 2111.5 3325.0 2114.8 3327.1 2118.2 3330.8 2121.5 3335.0 2124.6 3333.8 2127.8 3339.9 2130.9 3334.8 2134.0 3337.5 2137.1 3338.0 2140.2 3333.4 2143.4 3334.5 2146.5 3334.0 2149.6 3332.6 2152.8 3334.6 2155.9 3336.7 2159.0 3336.0 2162.8 3340.3 2166.5 3335.9 2170.2 3341.2 2174.0 3340.0 2177.8 3339.4 2181.5 3339.5 2185.2 3337.6 2189.0 3335.0 2192.8 3338.6 2196.5 3332.5 2200.2 3335.3 2204.0 3337.5 2207.1 3339.1 2210.2 3339.0 2213.4 3341.8 2216.5 3342.5 2219.8 3342.5 2223.2 3335.6 2226.5 3331.0 2229.8 3332.9 2233.2 3333.1 2236.5 3339.0 2239.6 3336.4 2242.8 3334.4 2245.9 3337.9 2249.0 3335.0 2252.8 3335.0 2256.5 3339.3 2260.2 3336.0 2264.0 3337.5 2267.8 3340.4 2271.5 3338.3 2275.2 3339.0 2279.0 3336.0 2282.1 3333.8 2285.2 3340.1 2288.4 3337.5 2291.5 3337.5" fill="none" stroke="#0a0a0a" stroke-width="7.0" stroke-linejoin="round" stroke-linecap="butt"/>
<path d="M796.2 3174.8 796.5 3171.0 797.7 3154.5 798.9 3137.5 800.1 3121.5 801.3 3108.1 802.5 3099.3 803.7 3096.0 804.9 3101.3 806.1 3111.8 807.3 3126.6 808.5 3143.8 809.7 3161.6 810.9 3178.8 811.2 3182.8ZM885.5 3255.4 887.5 3250.0 893.0 3222.5 898.5 3250.0 900.5 3264.0ZM1029.3 3163.9 1029.6 3158.2 1030.8 3133.3 1032.0 3107.6 1033.2 3083.3 1034.4 3063.5 1035.6 3051.4 1036.8 3049.6 1038.0 3058.6 1039.2 3076.4 1040.4 3099.7 1041.6 3125.3 1042.8 3150.8 1044.0 3174.6 1044.3 3180.0Z" fill="#0a0a0a" stroke="none"/>
<rect x="240" y="77" width="2054" height="1510.5" fill="none" stroke="#111" stroke-width="5.5"/>
<path d="M325.1 1587.5V1572.5M410.7 1587.5V1557.5M496.3 1587.5V1572.5M581.9 1587.5V1557.5M667.5 1587.5V1572.5M753.1 1587.5V1557.5M838.7 1587.5V1572.5M924.3 1587.5V1557.5M1009.9 1587.5V1572.5M1095.5 1587.5V1557.5M1181.1 1587.5V1572.5M1266.7 1587.5V1557.5M1352.3 1587.5V1572.5M1437.9 1587.5V1557.5M1523.5 1587.5V1572.5M1609.1 1587.5V1557.5M1694.7 1587.5V1572.5M1780.3 1587.5V1557.5M1865.9 1587.5V1572.5M1951.5 1587.5V1557.5M2037.1 1587.5V1572.5M2122.7 1587.5V1557.5M2208.3 1587.5V1572.5" stroke="#111" stroke-width="5" fill="none"/>
<text x="239.5" y="1674" font-size="65" text-anchor="middle" fill="#1a1a1a">20</text>
<text x="410.7" y="1674" font-size="65" text-anchor="middle" fill="#1a1a1a">25</text>
<text x="581.9" y="1674" font-size="65" text-anchor="middle" fill="#1a1a1a">30</text>
<text x="753.1" y="1674" font-size="65" text-anchor="middle" fill="#1a1a1a">35</text>
<text x="924.3" y="1674" font-size="65" text-anchor="middle" fill="#1a1a1a">40</text>
<text x="1095.5" y="1674" font-size="65" text-anchor="middle" fill="#1a1a1a">45</text>
<text x="1266.7" y="1674" font-size="65" text-anchor="middle" fill="#1a1a1a">50</text>
<text x="1437.9" y="1674" font-size="65" text-anchor="middle" fill="#1a1a1a">55</text>
<text x="1609.1" y="1674" font-size="65" text-anchor="middle" fill="#1a1a1a">60</text>
<text x="1780.3" y="1674" font-size="65" text-anchor="middle" fill="#1a1a1a">65</text>
<text x="1951.5" y="1674" font-size="65" text-anchor="middle" fill="#1a1a1a">70</text>
<text x="2122.7" y="1674" font-size="65" text-anchor="middle" fill="#1a1a1a">75</text>
<text x="2293.9" y="1674" font-size="65" text-anchor="middle" fill="#1a1a1a">80</text>
<text x="66.7" y="166.5" font-size="104.5" font-weight="bold" letter-spacing="1.5" fill="#0c0c0c">(a)</text>
<text transform="translate(174.2 1063.2) rotate(-90)" font-size="81.5" font-weight="bold" fill="#111">Intensity (a.u.)</text>
<text x="1057" y="1789.5" font-size="82" font-weight="bold" fill="#111">2</text>
<text transform="translate(1108.5 1791.8) scale(1.19 1)" font-size="98" font-style="italic" font-family='"Liberation Serif", "DejaVu Serif", serif' fill="#111">θ</text>
<text x="1175" y="1789.5" font-size="80" font-weight="bold" fill="#111">(degree)</text>
<ellipse cx="1525.0" cy="154.0" rx="16" ry="14" fill="#404040"/>
<text x="1570" y="180.5" font-size="77" font-weight="bold" fill="#111">Zn,</text>
<text x="1710" y="180.5" font-size="65" font-weight="bold" font-style="italic" fill="#111">Zinc</text>
<text x="1865" y="180.5" font-size="66" font-weight="bold" fill="#111">(hexagonal)</text>
<rect x="245" y="1839" width="2047.5" height="1522" fill="none" stroke="#111" stroke-width="5.5"/>
<path d="M329.9 3361V3346M415.2 3361V3331M500.6 3361V3346M586.0 3361V3331M671.4 3361V3346M756.8 3361V3331M842.1 3361V3346M927.5 3361V3331M1012.9 3361V3346M1098.2 3361V3331M1183.6 3361V3346M1269.0 3361V3331M1354.4 3361V3346M1439.8 3361V3331M1525.1 3361V3346M1610.5 3361V3331M1695.9 3361V3346M1781.2 3361V3331M1866.6 3361V3346M1952.0 3361V3331M2037.4 3361V3346M2122.8 3361V3331M2208.1 3361V3346" stroke="#111" stroke-width="5" fill="none"/>
<text x="244.5" y="3448" font-size="66" text-anchor="middle" fill="#1a1a1a">20</text>
<text x="415.2" y="3448" font-size="66" text-anchor="middle" fill="#1a1a1a">25</text>
<text x="586.0" y="3448" font-size="66" text-anchor="middle" fill="#1a1a1a">30</text>
<text x="756.8" y="3448" font-size="66" text-anchor="middle" fill="#1a1a1a">35</text>
<text x="927.5" y="3448" font-size="66" text-anchor="middle" fill="#1a1a1a">40</text>
<text x="1098.2" y="3448" font-size="66" text-anchor="middle" fill="#1a1a1a">45</text>
<text x="1269.0" y="3448" font-size="66" text-anchor="middle" fill="#1a1a1a">50</text>
<text x="1439.8" y="3448" font-size="66" text-anchor="middle" fill="#1a1a1a">55</text>
<text x="1610.5" y="3448" font-size="66" text-anchor="middle" fill="#1a1a1a">60</text>
<text x="1781.2" y="3448" font-size="66" text-anchor="middle" fill="#1a1a1a">65</text>
<text x="1952.0" y="3448" font-size="66" text-anchor="middle" fill="#1a1a1a">70</text>
<text x="2122.8" y="3448" font-size="66" text-anchor="middle" fill="#1a1a1a">75</text>
<text x="2293.5" y="3448" font-size="66" text-anchor="middle" fill="#1a1a1a">80</text>
<text x="63.5" y="1935.2" font-size="104.5" font-weight="bold" letter-spacing="2" fill="#0c0c0c">(b)</text>
<text transform="translate(182 2821) rotate(-90)" font-size="81.5" font-weight="bold" fill="#111">Intensity (a.u.)</text>
<text x="1109" y="3543" font-size="82" font-weight="bold" fill="#111">2</text>
<text transform="translate(1160.5 3545) scale(1.19 1)" font-size="98" font-style="italic" font-family='"Liberation Serif", "DejaVu Serif", serif' fill="#111">θ</text>
<text x="1224" y="3543" font-size="80" font-weight="bold" fill="#111">(degree)</text>
<ellipse cx="1261.0" cy="1883.5" rx="16" ry="13" fill="#404040"/>
<text x="1314" y="1920" font-size="76" font-weight="bold" fill="#111">Zn,</text>
<text x="1450" y="1920" font-size="76" font-weight="bold" font-style="italic" fill="#111">zinc</text>
<text x="1623" y="1920" font-size="64" font-weight="bold" fill="#111">(hexagonal)</text>
<rect x="1253.5" y="1947.5" width="27" height="27" fill="#2e75b6"/>
<text x="1319" y="1995" font-size="76" font-weight="bold" fill="#111">ZnO,</text>
<text x="1516" y="1995" font-size="62.7" font-weight="bold" font-style="italic" fill="#111">Zincite, syn</text>
<text x="1887" y="1995" font-size="64.3" font-weight="bold" fill="#111">(hexagonal)</text>
<text transform="translate(821.0 290.5) rotate(-90)" font-size="61" font-weight="bold" fill="#303030" textLength="141.0" lengthAdjust="spacingAndGlyphs">(002)</text>
<ellipse cx="800.0" cy="322.5" rx="16.3" ry="13.4" fill="#404040"/>
<text transform="translate(910.0 517.9) rotate(-90)" font-size="61" font-weight="bold" fill="#303030" textLength="136.8" lengthAdjust="spacingAndGlyphs">(100)</text>
<ellipse cx="888.5" cy="542.5" rx="16.3" ry="13.4" fill="#404040"/>
<text transform="translate(1055.0 235.5) rotate(-90)" font-size="61" font-weight="bold" fill="#303030" textLength="138.4" lengthAdjust="spacingAndGlyphs">(101)</text>
<ellipse cx="1033.5" cy="262.5" rx="16.3" ry="13.4" fill="#404040"/>
<text transform="translate(1439.0 540.5) rotate(-90)" font-size="61" font-weight="bold" fill="#303030" textLength="138.4" lengthAdjust="spacingAndGlyphs">(102)</text>
<ellipse cx="1415.0" cy="572.5" rx="16.3" ry="13.4" fill="#404040"/>
<text transform="translate(1982.3 560.8) rotate(-90)" font-size="61" font-weight="bold" fill="#303030" textLength="139.9" lengthAdjust="spacingAndGlyphs">(103)</text>
<ellipse cx="1969.8" cy="587.5" rx="16.3" ry="13.4" fill="#404040"/>
<text transform="translate(821.0 788.0) rotate(-90)" font-size="61" font-weight="bold" fill="#303030" textLength="138.9" lengthAdjust="spacingAndGlyphs">(002)</text>
<ellipse cx="797.5" cy="807.5" rx="16.3" ry="13.4" fill="#404040"/>
<text transform="translate(910.0 1015.4) rotate(-90)" font-size="61" font-weight="bold" fill="#303030" textLength="137.4" lengthAdjust="spacingAndGlyphs">(100)</text>
<ellipse cx="890.0" cy="1034.5" rx="16.3" ry="13.4" fill="#404040"/>
<text transform="translate(1055.0 778.0) rotate(-90)" font-size="61" font-weight="bold" fill="#303030" textLength="138.9" lengthAdjust="spacingAndGlyphs">(101)</text>
<ellipse cx="1033.5" cy="797.5" rx="16.3" ry="13.4" fill="#404040"/>
<text transform="translate(1436.0 1050.5) rotate(-90)" font-size="61" font-weight="bold" fill="#303030" textLength="139.5" lengthAdjust="spacingAndGlyphs">(102)</text>
<ellipse cx="1415.0" cy="1077.5" rx="16.3" ry="13.4" fill="#404040"/>
<text transform="translate(1985.0 1055.5) rotate(-90)" font-size="61" font-weight="bold" fill="#303030" textLength="139.5" lengthAdjust="spacingAndGlyphs">(103)</text>
<ellipse cx="1969.0" cy="1077.5" rx="16.3" ry="13.4" fill="#404040"/>
<text transform="translate(822.0 1313.0) rotate(-90)" font-size="61" font-weight="bold" fill="#303030" textLength="141.0" lengthAdjust="spacingAndGlyphs">(002)</text>
<ellipse cx="800.0" cy="1336.0" rx="16.3" ry="13.4" fill="#404040"/>
<text transform="translate(910.0 1395.5) rotate(-90)" font-size="61" font-weight="bold" fill="#303030" textLength="141.0" lengthAdjust="spacingAndGlyphs">(100)</text>
<ellipse cx="890.0" cy="1420.0" rx="16.3" ry="13.4" fill="#404040"/>
<text transform="translate(1053.0 1272.9) rotate(-90)" font-size="61" font-weight="bold" fill="#303030" textLength="136.8" lengthAdjust="spacingAndGlyphs">(101)</text>
<ellipse cx="1033.5" cy="1299.0" rx="16.3" ry="13.4" fill="#404040"/>
<text transform="translate(1435.0 1430.5) rotate(-90)" font-size="61" font-weight="bold" fill="#303030" textLength="138.4" lengthAdjust="spacingAndGlyphs">(102)</text>
<ellipse cx="1415.0" cy="1456.0" rx="16.3" ry="13.4" fill="#404040"/>
<text transform="translate(1986.0 1445.5) rotate(-90)" font-size="61" font-weight="bold" fill="#303030" textLength="138.4" lengthAdjust="spacingAndGlyphs">(103)</text>
<ellipse cx="1969.0" cy="1471.0" rx="16.3" ry="13.4" fill="#404040"/>
<text x="2019" y="652" font-size="77" font-weight="bold" fill="#111">1500 W</text>
<text x="2052.5" y="1132.5" font-size="77" font-weight="bold" fill="#111">900 W</text>
<text x="2050" y="1506" font-size="77" font-weight="bold" fill="#111">500 W</text>
<text transform="translate(663.5 2003.9) rotate(-90)" font-size="60" font-weight="bold" fill="#303030" textLength="134.2" lengthAdjust="spacingAndGlyphs">(100)</text>
<rect x="632.0" y="2009.5" width="28" height="22" fill="#2e75b6"/>
<text transform="translate(751.0 2012.8) rotate(-90)" font-size="60" font-weight="bold" fill="#303030" textLength="133.2" lengthAdjust="spacingAndGlyphs">(002)</text>
<rect x="719.8" y="2015.5" width="27.5" height="27" fill="#2e75b6"/>
<text transform="translate(816.0 1990.3) rotate(-90)" font-size="60" font-weight="bold" fill="#303030" textLength="133.2" lengthAdjust="spacingAndGlyphs">(101)</text>
<rect x="783.8" y="1994.0" width="27.5" height="27" fill="#2e75b6"/>
<text transform="translate(1200.0 2183.0) rotate(-90)" font-size="61" font-weight="bold" fill="#303030" textLength="138.4" lengthAdjust="spacingAndGlyphs">(102)</text>
<rect x="1168.0" y="2184.5" width="27.5" height="27" fill="#2e75b6"/>
<text transform="translate(1514.0 2162.9) rotate(-90)" font-size="61" font-weight="bold" fill="#303030" textLength="137.9" lengthAdjust="spacingAndGlyphs">(110)</text>
<rect x="1477.2" y="2170.5" width="27.5" height="27" fill="#2e75b6"/>
<text transform="translate(1721.0 2171.9) rotate(-90)" font-size="61" font-weight="bold" fill="#303030" textLength="137.9" lengthAdjust="spacingAndGlyphs">(103)</text>
<rect x="1686.8" y="2183.5" width="27.5" height="27" fill="#2e75b6"/>
<text transform="translate(1892.8 2185.4) rotate(-90)" font-size="61" font-weight="bold" fill="#303030" textLength="135.8" lengthAdjust="spacingAndGlyphs">(200)</text>
<rect x="1858.0" y="2193.5" width="27.5" height="27" fill="#2e75b6"/>
<text transform="translate(656.3 2256.2) rotate(-90)" font-size="45" font-weight="normal" fill="#1c1c1c" textLength="101.4" lengthAdjust="spacingAndGlyphs" stroke="#1c1c1c" stroke-width="1.5">(100)</text>
<rect x="631.5" y="2263.0" width="27.5" height="27" fill="#2e75b6"/>
<text transform="translate(744.2 2263.7) rotate(-90)" font-size="45" font-weight="normal" fill="#1c1c1c" textLength="103.5" lengthAdjust="spacingAndGlyphs" stroke="#1c1c1c" stroke-width="1.5">(002)</text>
<rect x="719.0" y="2265.8" width="27.5" height="27" fill="#2e75b6"/>
<text transform="translate(808.0 2256.3) rotate(-90)" font-size="45" font-weight="normal" fill="#1c1c1c" textLength="104.0" lengthAdjust="spacingAndGlyphs" stroke="#1c1c1c" stroke-width="1.5">(101)</text>
<rect x="782.8" y="2255.5" width="27.5" height="27" fill="#2e75b6"/>
<text transform="translate(1201.0 2399.0) rotate(-90)" font-size="61" font-weight="bold" fill="#303030" textLength="139.5" lengthAdjust="spacingAndGlyphs">(102)</text>
<rect x="1168.0" y="2402.2" width="27.5" height="27" fill="#2e75b6"/>
<text transform="translate(1511.0 2388.0) rotate(-90)" font-size="61" font-weight="bold" fill="#303030" textLength="138.4" lengthAdjust="spacingAndGlyphs">(110)</text>
<rect x="1477.2" y="2388.5" width="27.5" height="27" fill="#2e75b6"/>
<text transform="translate(1718.0 2399.0) rotate(-90)" font-size="61" font-weight="bold" fill="#303030" textLength="139.5" lengthAdjust="spacingAndGlyphs">(103)</text>
<rect x="1687.2" y="2403.5" width="27.5" height="27" fill="#2e75b6"/>
<text transform="translate(1892.8 2396.2) rotate(-90)" font-size="61" font-weight="bold" fill="#303030" textLength="132.0" lengthAdjust="spacingAndGlyphs">(200)</text>
<rect x="1861.2" y="2407.2" width="27.5" height="27" fill="#2e75b6"/>
<text transform="translate(652.8 2505.2) rotate(-90)" font-size="45" font-weight="normal" fill="#1c1c1c" textLength="102.4" lengthAdjust="spacingAndGlyphs" stroke="#1c1c1c" stroke-width="1.5">(100)</text>
<rect x="627.5" y="2505.1" width="27.5" height="27" fill="#2e75b6"/>
<text transform="translate(741.6 2527.5) rotate(-90)" font-size="45" font-weight="normal" fill="#1c1c1c" textLength="104.2" lengthAdjust="spacingAndGlyphs" stroke="#1c1c1c" stroke-width="1.5">(002)</text>
<rect x="716.8" y="2533.4" width="27.5" height="27" fill="#2e75b6"/>
<text transform="translate(804.3 2506.1) rotate(-90)" font-size="45" font-weight="normal" fill="#1c1c1c" textLength="104.3" lengthAdjust="spacingAndGlyphs" stroke="#1c1c1c" stroke-width="1.5">(101)</text>
<rect x="778.4" y="2510.5" width="27.5" height="27" fill="#2e75b6"/>
<text transform="translate(1065.0 2640.5) rotate(-90)" font-size="61" font-weight="bold" fill="#303030" textLength="139.5" lengthAdjust="spacingAndGlyphs">(101)</text>
<ellipse cx="1040.0" cy="2654.0" rx="16.3" ry="13.4" fill="#404040"/>
<text transform="translate(1520.0 2641.9) rotate(-90)" font-size="61" font-weight="bold" fill="#303030" textLength="137.4" lengthAdjust="spacingAndGlyphs">(110)</text>
<rect x="1480.0" y="2647.2" width="27.5" height="27" fill="#2e75b6"/>
<text transform="translate(1715.0 2647.0) rotate(-90)" font-size="61" font-weight="bold" fill="#303030" textLength="139.5" lengthAdjust="spacingAndGlyphs">(103)</text>
<rect x="1678.8" y="2644.5" width="27.5" height="27" fill="#2e75b6"/>
<text transform="translate(1891.5 2650.4) rotate(-90)" font-size="61" font-weight="bold" fill="#303030" textLength="135.8" lengthAdjust="spacingAndGlyphs">(200)</text>
<rect x="1858.0" y="2657.5" width="27.5" height="27" fill="#2e75b6"/>
<text transform="translate(661.0 2817.7) rotate(-90)" font-size="57" font-weight="bold" fill="#303030" textLength="128.0" lengthAdjust="spacingAndGlyphs">(100)</text>
<rect x="632.2" y="2819.5" width="27.5" height="27" fill="#2e75b6"/>
<text transform="translate(748.5 2820.2) rotate(-90)" font-size="57" font-weight="bold" fill="#303030" textLength="128.0" lengthAdjust="spacingAndGlyphs">(002)</text>
<rect x="719.8" y="2830.5" width="27.5" height="27" fill="#2e75b6"/>
<text transform="translate(816.0 2787.8) rotate(-90)" font-size="58" font-weight="bold" fill="#303030" textLength="130.6" lengthAdjust="spacingAndGlyphs">(101)</text>
<rect x="779.2" y="2787.2" width="27.5" height="27" fill="#2e75b6"/>
<text transform="translate(917.0 2865.3) rotate(-90)" font-size="60" font-weight="bold" fill="#303030" textLength="133.2" lengthAdjust="spacingAndGlyphs">(100)</text>
<ellipse cx="893.5" cy="2888.5" rx="16.3" ry="13.4" fill="#404040"/>
<text transform="translate(1050.0 2808.5) rotate(-90)" font-size="41" font-weight="normal" fill="#1c1c1c" textLength="95.0" lengthAdjust="spacingAndGlyphs" stroke="#1c1c1c" stroke-width="1.5">(101)</text>
<ellipse cx="1035.0" cy="2820.0" rx="16.3" ry="13.4" fill="#404040"/>
<text transform="translate(1427.5 2915.5) rotate(-90)" font-size="61" font-weight="bold" fill="#303030" textLength="141.0" lengthAdjust="spacingAndGlyphs">(102)</text>
<ellipse cx="1410.0" cy="2934.0" rx="16.3" ry="13.4" fill="#404040"/>
<text transform="translate(1984.0 2905.5) rotate(-90)" font-size="61" font-weight="bold" fill="#303030" textLength="141.0" lengthAdjust="spacingAndGlyphs">(103)</text>
<ellipse cx="1966.5" cy="2922.5" rx="16.3" ry="13.4" fill="#404040"/>
<text transform="translate(816.0 3055.3) rotate(-90)" font-size="60" font-weight="bold" fill="#303030" textLength="129.5" lengthAdjust="spacingAndGlyphs">(002)</text>
<ellipse cx="806.0" cy="3073.0" rx="16.3" ry="13.4" fill="#404040"/>
<text transform="translate(917.0 3170.5) rotate(-90)" font-size="61" font-weight="bold" fill="#303030" textLength="138.4" lengthAdjust="spacingAndGlyphs">(100)</text>
<ellipse cx="896.0" cy="3195.0" rx="16.3" ry="13.4" fill="#404040"/>
<text transform="translate(1116.0 3105.5) rotate(-90)" font-size="61" font-weight="bold" fill="#303030" textLength="141.0" lengthAdjust="spacingAndGlyphs">(101)</text>
<ellipse cx="1036.0" cy="3019.0" rx="16.3" ry="13.4" fill="#404040"/>
<text transform="translate(1429.0 3240.5) rotate(-90)" font-size="61" font-weight="bold" fill="#303030" textLength="139.5" lengthAdjust="spacingAndGlyphs">(102)</text>
<ellipse cx="1410.0" cy="3261.0" rx="16.3" ry="13.4" fill="#404040"/>
<text transform="translate(1985.0 3236.9) rotate(-90)" font-size="61" font-weight="bold" fill="#303030" textLength="137.4" lengthAdjust="spacingAndGlyphs">(103)</text>
<ellipse cx="1966.5" cy="3257.5" rx="16.3" ry="13.4" fill="#404040"/>
<text x="2044" y="2232" font-size="75" font-weight="bold" fill="#111">400 <tspan font-size="46" dy="-22">o</tspan><tspan dy="22">C</tspan></text>
<text x="2044" y="2450" font-size="75" font-weight="bold" fill="#111">350 <tspan font-size="46" dy="-22">o</tspan><tspan dy="22">C</tspan></text>
<text x="2044" y="2692.5" font-size="75" font-weight="bold" fill="#111">300 <tspan font-size="46" dy="-22">o</tspan><tspan dy="22">C</tspan></text>
<text x="2049" y="2946" font-size="75" font-weight="bold" fill="#111">250 <tspan font-size="46" dy="-22">o</tspan><tspan dy="22">C</tspan></text>
<text x="2019" y="3297.5" font-size="49.5" font-weight="bold" fill="#111">As-deposit</text>
</g>
</svg>
</body></html>
